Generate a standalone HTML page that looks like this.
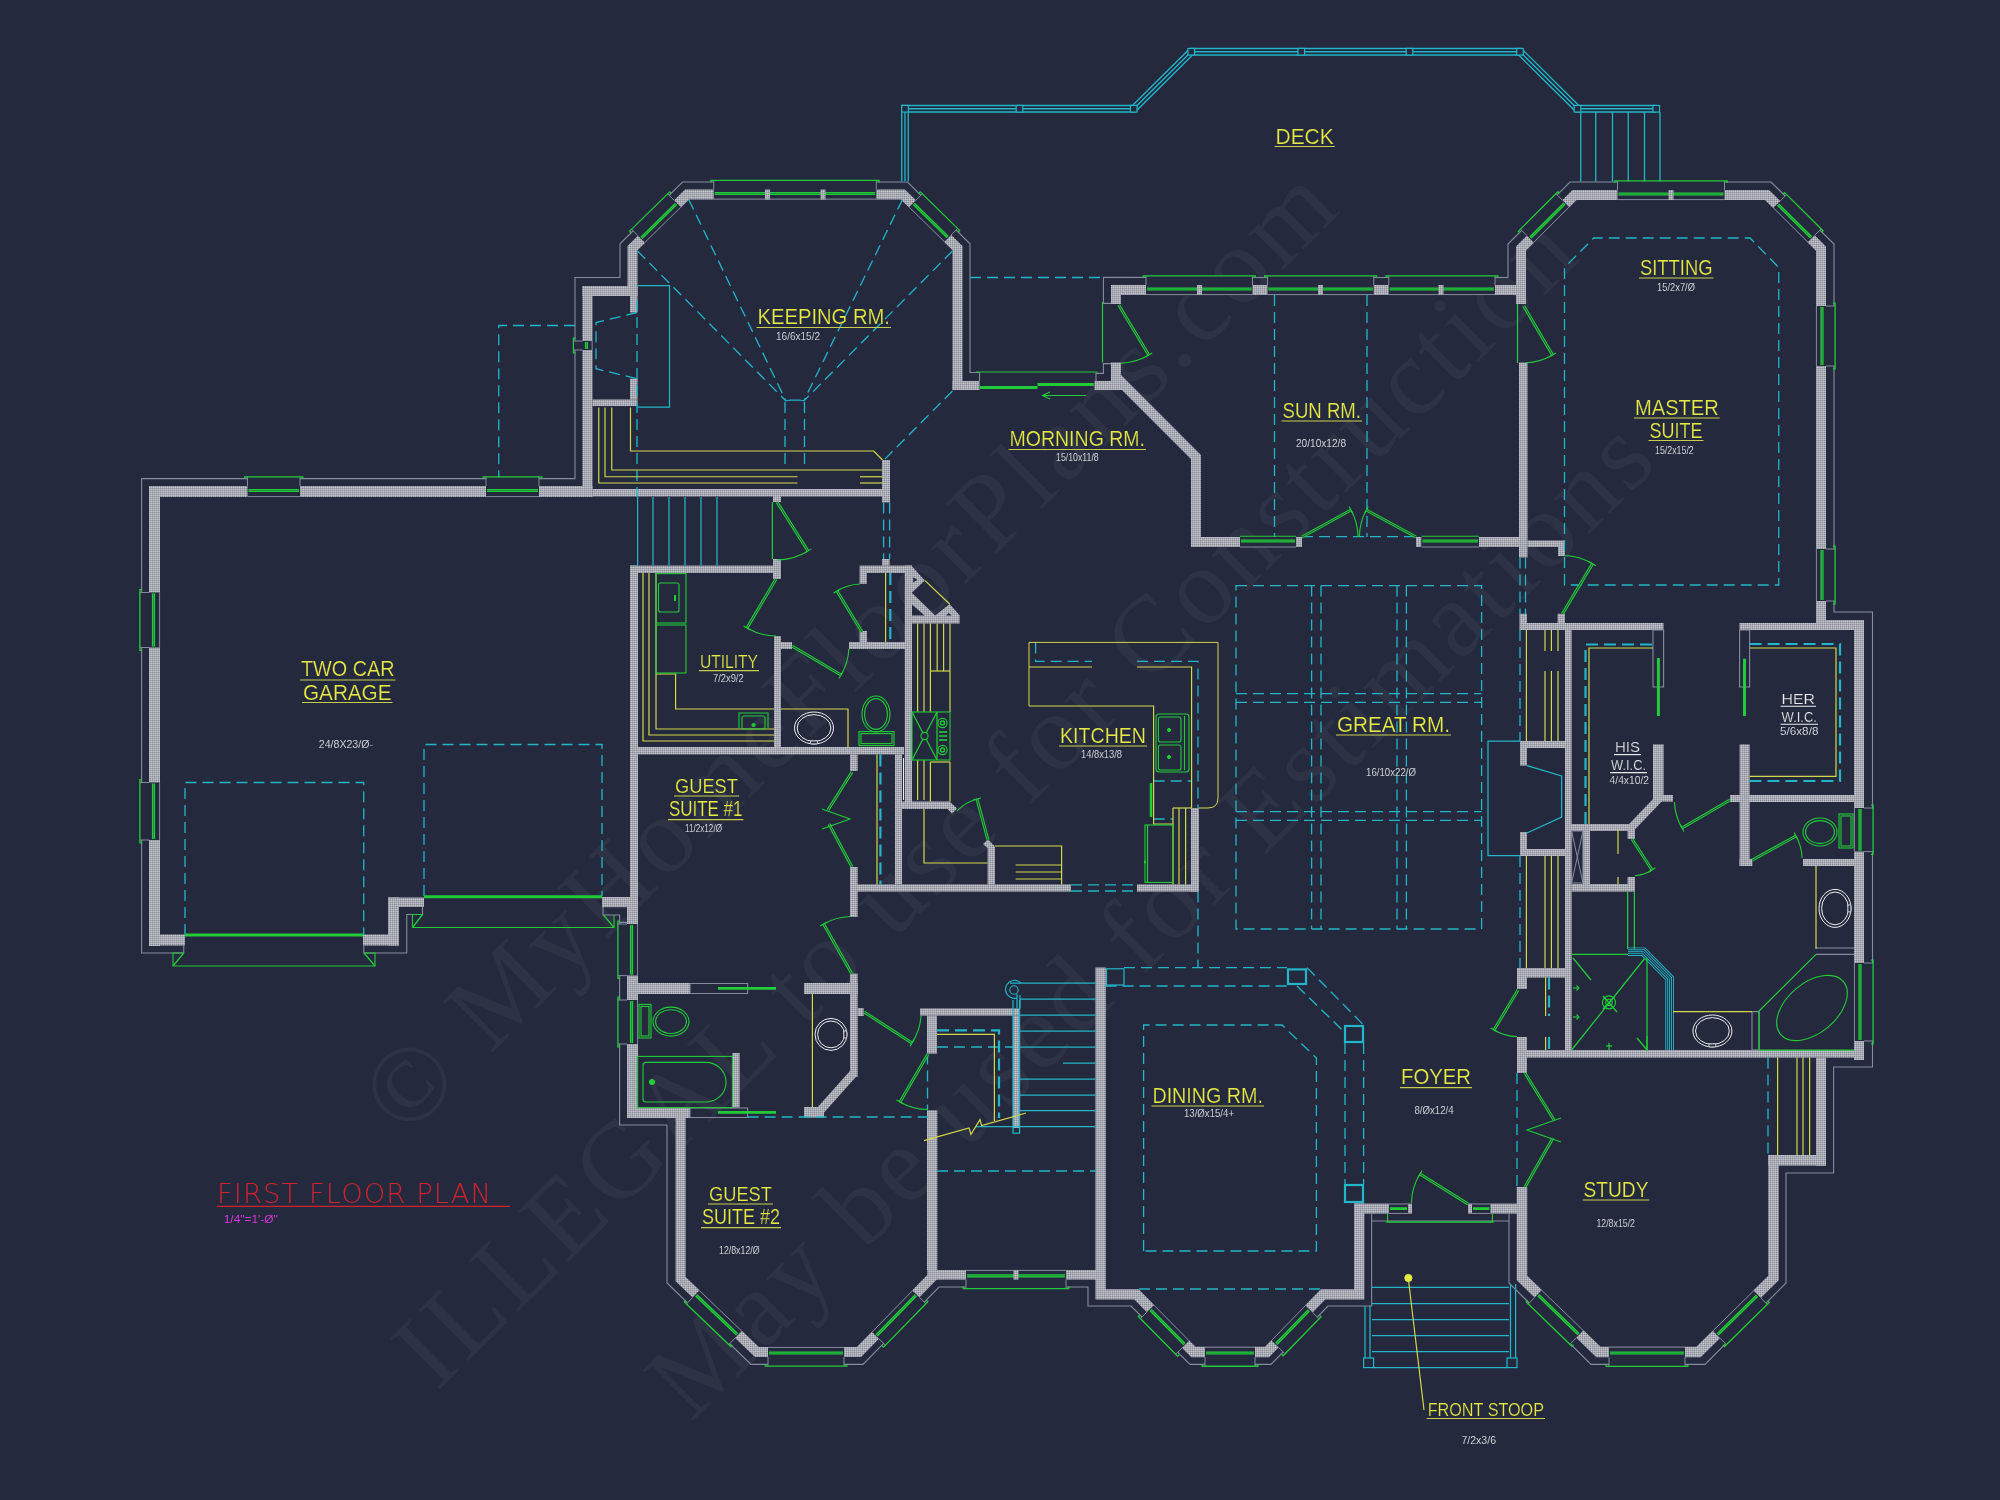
<!DOCTYPE html>
<html lang="en"><head><meta charset="utf-8"><title>First Floor Plan</title>
<style>html,body{margin:0;padding:0;background:#24293d;overflow:hidden}svg{display:block}text{white-space:pre}</style></head><body>
<svg width="2000" height="1500" viewBox="0 0 2000 1500" shape-rendering="geometricPrecision">
<defs><filter id="idf" x="0" y="0" width="2000" height="1500" filterUnits="userSpaceOnUse" color-interpolation-filters="sRGB"><feOffset dx="0" dy="0"/></filter><pattern id="h" width="2" height="2" patternUnits="userSpaceOnUse"><rect width="2" height="2" fill="#a8aab4"/><rect width="1" height="1" fill="#8b8d99"/><rect x="1" y="1" width="1" height="1" fill="#c3c5cd"/></pattern></defs>
<rect width="2000" height="1500" fill="#24293d"/>
<g id="wm">
<text x="405" y="1139" transform="rotate(-44.7 405 1139)" font-family="Liberation Serif, Times New Roman, serif" font-size="109" fill="rgba(255,255,255,0.043)" textLength="1318" lengthAdjust="spacing">© MyHomeFloorPlans.com</text>
<text x="437" y="1392" transform="rotate(-44.7 437 1392)" font-family="Liberation Serif, Times New Roman, serif" font-size="109" fill="rgba(255,255,255,0.043)" textLength="1610" lengthAdjust="spacing">ILLEGAL to use for Construction</text>
<text x="691" y="1423" transform="rotate(-44.7 691 1423)" font-family="Liberation Serif, Times New Roman, serif" font-size="109" fill="rgba(255,255,255,0.043)" textLength="1362" lengthAdjust="spacing">May be used for Estimations</text>
</g>
<g id="wall">
<rect x="149" y="486" width="11" height="460" fill="url(#h)"/>
<rect x="149" y="486" width="443.5" height="11" fill="url(#h)"/>
<rect x="592.5" y="489" width="297.5" height="7.5" fill="url(#h)"/>
<rect x="149" y="934.5" width="36" height="11" fill="url(#h)"/>
<rect x="363" y="934.5" width="36" height="11" fill="url(#h)"/>
<rect x="388" y="897.5" width="11" height="48" fill="url(#h)"/>
<rect x="388" y="897.5" width="36" height="9.5" fill="url(#h)"/>
<rect x="602" y="897" width="36" height="10.2" fill="url(#h)"/>
<rect x="582.5" y="286" width="10" height="211" fill="url(#h)"/>
<rect x="582.5" y="286" width="55" height="10" fill="url(#h)"/>
<rect x="630" y="296" width="7.5" height="16.5" fill="url(#h)"/>
<rect x="630" y="378.75" width="7.5" height="20.75" fill="url(#h)"/>
<rect x="592.5" y="399.5" width="45" height="6.5" fill="url(#h)"/>
<path d="M957.5 390 L957.5 248.1 L902.9 194.5 L687.1 194.5 L632.5 248.1 L632.5 296" fill="none" stroke="url(#h)" stroke-width="10" stroke-linejoin="miter" stroke-miterlimit="10"/>
<rect x="952.5" y="381" width="27" height="9" fill="url(#h)"/>
<rect x="1094.5" y="381" width="27.5" height="9" fill="url(#h)"/>
<rect x="1111" y="285" width="10" height="19" fill="url(#h)"/>
<rect x="1111" y="362.5" width="10" height="27.5" fill="url(#h)"/>
<path d="M1116.5 377.5 L1196 457 L1196 542 L1240 542" fill="none" stroke="url(#h)" stroke-width="10" stroke-linejoin="miter" stroke-miterlimit="10"/>
<rect x="1111" y="285" width="415" height="10" fill="url(#h)"/>
<rect x="1296" y="537" width="6" height="10" fill="url(#h)"/>
<rect x="1416" y="537" width="5.5" height="10" fill="url(#h)"/>
<rect x="1479" y="537" width="40" height="10" fill="url(#h)"/>
<rect x="1519" y="362.5" width="8.5" height="195" fill="url(#h)"/>
<rect x="1527.5" y="540.5" width="37.5" height="6.5" fill="url(#h)"/>
<rect x="1558" y="547" width="7" height="9" fill="url(#h)"/>
<path d="M1521 304 L1521 248.5 L1574.6 195 L1767 195 L1821 248.6 L1821 625" fill="none" stroke="url(#h)" stroke-width="10" stroke-linejoin="miter" stroke-miterlimit="10"/>
<rect x="1516" y="295" width="10" height="9" fill="url(#h)"/>
<rect x="1817" y="620" width="47" height="10" fill="url(#h)"/>
<rect x="1854" y="620" width="10" height="440" fill="url(#h)"/>
<rect x="1739.5" y="623" width="77.5" height="7" fill="url(#h)"/>
<rect x="1519.5" y="623" width="144" height="7" fill="url(#h)"/>
<rect x="1519.5" y="613.75" width="7.5" height="9.25" fill="url(#h)"/>
<rect x="1557.6" y="613.75" width="7.4" height="9.25" fill="url(#h)"/>
<rect x="1565" y="630" width="6.6" height="420" fill="url(#h)"/>
<rect x="1653" y="744.4" width="10.6" height="53.6" fill="url(#h)"/>
<rect x="1653" y="795" width="20" height="6.6" fill="url(#h)"/>
<path d="M1660.5 797 L1631.3 827.5" fill="none" stroke="url(#h)" stroke-width="8" stroke-linejoin="miter" stroke-miterlimit="10"/>
<rect x="1565" y="824" width="70" height="7" fill="url(#h)"/>
<rect x="1627.6" y="831" width="7.4" height="8" fill="url(#h)"/>
<rect x="1739.6" y="744.4" width="10" height="121.6" fill="url(#h)"/>
<rect x="1730" y="795" width="124" height="7" fill="url(#h)"/>
<rect x="1739.6" y="859" width="12.8" height="7" fill="url(#h)"/>
<rect x="1803" y="859" width="51" height="7" fill="url(#h)"/>
<rect x="1520" y="741" width="7" height="24.6" fill="url(#h)"/>
<rect x="1520" y="832" width="7" height="24" fill="url(#h)"/>
<rect x="1520" y="741" width="45" height="7" fill="url(#h)"/>
<rect x="1520" y="849" width="45" height="7" fill="url(#h)"/>
<rect x="1583" y="831" width="7" height="59" fill="url(#h)"/>
<rect x="1571.6" y="884" width="63.4" height="7.6" fill="url(#h)"/>
<rect x="1627.6" y="877" width="7.4" height="7" fill="url(#h)"/>
<rect x="1517" y="1050" width="347" height="7.6" fill="url(#h)"/>
<rect x="1517" y="968" width="10" height="21" fill="url(#h)"/>
<rect x="1517" y="1037" width="10" height="36" fill="url(#h)"/>
<rect x="1517" y="968" width="48" height="9.6" fill="url(#h)"/>
<path d="M1522 1187 L1522 1278 L1598.5 1352 L1698.5 1352 L1773.5 1278 L1773.5 1155" fill="none" stroke="url(#h)" stroke-width="10.5" stroke-linejoin="miter" stroke-miterlimit="10"/>
<rect x="1816" y="1057.6" width="10" height="108" fill="url(#h)"/>
<rect x="1768" y="1155" width="58" height="10.6" fill="url(#h)"/>
<rect x="1354" y="1203.6" width="35" height="10" fill="url(#h)"/>
<rect x="1408" y="1203.6" width="4" height="10" fill="url(#h)"/>
<rect x="1468" y="1203.6" width="4" height="10" fill="url(#h)"/>
<rect x="1490.4" y="1203.6" width="36.6" height="10" fill="url(#h)"/>
<path d="M1100.6 967.6 L1100.6 1294.3 L1136.5 1294.3 L1193.5 1352 L1267 1352 L1323 1294.3 L1359.2 1294.3 L1359.2 1203.6" fill="none" stroke="url(#h)" stroke-width="10.3" stroke-linejoin="miter" stroke-miterlimit="10"/>
<rect x="932" y="1270" width="168" height="9.6" fill="url(#h)"/>
<path d="M680.6 1112 L680.6 1279 L757 1352 L859 1352 L932.3 1277 L932.3 1110.6" fill="none" stroke="url(#h)" stroke-width="10" stroke-linejoin="miter" stroke-miterlimit="10"/>
<rect x="627" y="907" width="11" height="211" fill="url(#h)"/>
<rect x="627.6" y="1107.6" width="62.4" height="10.4" fill="url(#h)"/>
<rect x="637.6" y="983" width="52.4" height="11" fill="url(#h)"/>
<rect x="804" y="983" width="53.6" height="11" fill="url(#h)"/>
<rect x="732.4" y="1053" width="7.2" height="54.6" fill="url(#h)"/>
<rect x="850" y="973.6" width="7.6" height="103.4" fill="url(#h)"/>
<path d="M853.8 1073 L818.5 1112.5" fill="none" stroke="url(#h)" stroke-width="8.5" stroke-linejoin="miter" stroke-miterlimit="10"/>
<rect x="804" y="1107" width="20" height="10.6" fill="url(#h)"/>
<rect x="857.6" y="1008" width="6" height="8" fill="url(#h)"/>
<rect x="630" y="565.6" width="8" height="341.4" fill="url(#h)"/>
<rect x="630" y="565.6" width="151" height="7.4" fill="url(#h)"/>
<rect x="773" y="559" width="8" height="20" fill="url(#h)"/>
<rect x="773" y="496" width="8" height="6" fill="url(#h)"/>
<rect x="774" y="636" width="7" height="111" fill="url(#h)"/>
<rect x="781" y="642" width="11" height="7" fill="url(#h)"/>
<rect x="849" y="642" width="62" height="7" fill="url(#h)"/>
<rect x="859.6" y="631" width="7.4" height="11" fill="url(#h)"/>
<rect x="859.6" y="565.6" width="52.4" height="7.4" fill="url(#h)"/>
<rect x="859.6" y="573" width="7.2" height="10.8" fill="url(#h)"/>
<rect x="882" y="559" width="7.6" height="6.6" fill="url(#h)"/>
<rect x="882" y="460" width="8" height="42.5" fill="url(#h)"/>
<rect x="904.8" y="565.6" width="7.2" height="240.4" fill="url(#h)"/>
<rect x="630" y="747" width="274" height="7.4" fill="url(#h)"/>
<rect x="850" y="754.4" width="7.6" height="16.6" fill="url(#h)"/>
<rect x="850" y="867" width="7.6" height="50" fill="url(#h)"/>
<rect x="850" y="884.4" width="221" height="7.2" fill="url(#h)"/>
<rect x="895" y="754.4" width="7" height="130" fill="url(#h)"/>
<rect x="1137" y="884.4" width="62" height="7.2" fill="url(#h)"/>
<rect x="1191" y="808" width="8" height="83.6" fill="url(#h)"/>
<polygon points="901.6,801.6 949.6,801.6 957,808.5 952,813.5 947.5,809 901.6,809" fill="url(#h)"/>
<polygon points="987.6,884.4 987.6,848 983,844 988,839.5 995,846.5 995,884.4" fill="url(#h)"/>
<polygon points="911.6,566 924.8,580.4 911.8,592.8 935.2,615.6 949.6,604 959.6,615.2 959.6,623.6 912,623.6" fill="url(#h)"/>
<polygon points="913.2,577.2 917.4,579.8 913.2,582.6" fill="#24293d"/>
<polygon points="912,604.4 912,615.6 924.6,615.6" fill="#24293d"/>
<polygon points="946,615.6 951.6,615.6 948.8,613" fill="#24293d"/>
<rect x="920" y="1008.4" width="99.6" height="7.2" fill="url(#h)"/>
<rect x="927" y="1015.6" width="10" height="38" fill="url(#h)"/>
<rect x="927" y="1110.6" width="10" height="159.4" fill="url(#h)"/>
<rect x="1013" y="1015.6" width="6.6" height="112.4" fill="url(#h)"/>
</g>
<g id="v0">
<path d="M183.75 945.5 L183.75 953 L141.6 953 L141.6 478.6 L575 478.6 L575 277.5 L620 277.5 L620 243.75 L682.5 182 L907.5 182 L970 243.75 L970 372.5 L979.5 372.5 L979.5 381" fill="none" stroke="#878ba0" stroke-width="1.1" stroke-linejoin="miter"/>
<path d="M1096 381.3 L1096 373.4 L1103.4 373.4 L1103.4 363.6 L1111 363.6" fill="none" stroke="#878ba0" stroke-width="1.1" stroke-linejoin="miter"/>
<path d="M1111.3 303.4 L1103.4 303.4 L1103.4 277.4 L1508 277.5 L1508 244 L1570 182 L1771 182 L1834 244 L1834 612 L1872.5 612 L1872.5 1067 L1833.6 1067 L1833.6 1173 L1786 1173 L1786 1283 L1705 1364.4 L1591 1364.4 L1509 1283 L1509 1221 L1371.6 1221 L1371.6 1306 L1328 1306 L1271 1364.4 L1190 1364.4 L1131 1306 L1088 1306 L1088 1287 L939 1287 L863 1364.4 L751 1364.4 L667 1283 L667 1125 L619.6 1125 L619.6 922.4 L627 922.4" fill="none" stroke="#878ba0" stroke-width="1.1" stroke-linejoin="miter"/>
<path d="M603 907 L603 915 L619.6 915 L619.6 922.4" fill="none" stroke="#878ba0" stroke-width="1.1" stroke-linejoin="miter"/>
<path d="M363.75 945.5 L363.75 953 L406.75 953 L406.75 914.5 L422.5 914.5 L422.5 907" fill="none" stroke="#878ba0" stroke-width="1.1" stroke-linejoin="miter"/>
<path d="M1371.6 1221 L1371.6 1213.6" fill="none" stroke="#878ba0" stroke-width="1.1" stroke-linejoin="miter"/>
<path d="M1509 1221 L1509 1213.6" fill="none" stroke="#878ba0" stroke-width="1.1" stroke-linejoin="miter"/>
</g>
<g id="erase">
<polygon points="160.3,592.5 160.3,647.5 139.5,647.5 139.5,592.5" fill="#24293d"/>
<polygon points="160.3,782.5 160.3,840 139.5,840 139.5,782.5" fill="#24293d"/>
<polygon points="247.5,497.3 300,497.3 300,476.5 247.5,476.5" fill="#24293d"/>
<polygon points="486,497.3 539,497.3 539,476.5 486,476.5" fill="#24293d"/>
<polygon points="592.8,341 592.8,350 573,350 573,341" fill="#24293d"/>
<polygon points="713.75,199.8 876.25,199.8 876.25,180 713.75,180" fill="#24293d"/>
<polygon points="681.3,207.62 645.22,243.04 631.34,228.91 667.43,193.49" fill="#24293d"/>
<polygon points="908.7,207.62 944.02,242.29 957.89,228.16 922.57,193.49" fill="#24293d"/>
<polygon points="1146,295.3 1252.5,295.3 1252.5,275.5 1146,275.5" fill="#24293d"/>
<polygon points="1267.5,295.3 1373.75,295.3 1373.75,275.5 1267.5,275.5" fill="#24293d"/>
<polygon points="1388.75,295.3 1495,295.3 1495,275.5 1388.75,275.5" fill="#24293d"/>
<polygon points="1617.5,200.3 1724.5,200.3 1724.5,180.5 1617.5,180.5" fill="#24293d"/>
<polygon points="1569.66,207.42 1534.13,242.89 1520.14,228.87 1555.67,193.4" fill="#24293d"/>
<polygon points="1772.93,208.35 1807.43,242.6 1821.38,228.55 1786.88,194.3" fill="#24293d"/>
<polygon points="1815.7,306 1815.7,366 1835.5,366 1835.5,306" fill="#24293d"/>
<polygon points="1815.7,549 1815.7,601 1835.5,601 1835.5,549" fill="#24293d"/>
<polygon points="1853.7,808 1853.7,851.6 1873.5,851.6 1873.5,808" fill="#24293d"/>
<polygon points="1853.7,963 1853.7,1041 1873.5,1041 1873.5,963" fill="#24293d"/>
<polygon points="1542.1,1289.72 1583.77,1330.03 1569.66,1344.62 1527.99,1304.32" fill="#24293d"/>
<polygon points="1609,1346.45 1685,1346.45 1685,1366.75 1609,1366.75" fill="#24293d"/>
<polygon points="1712.47,1330.42 1753.24,1290.19 1767.5,1304.64 1726.73,1344.87" fill="#24293d"/>
<polygon points="1154.39,1304.66 1189.67,1340.37 1175.37,1354.5 1140.09,1318.78" fill="#24293d"/>
<polygon points="1205,1346.55 1255,1346.55 1255,1366.65 1205,1366.65" fill="#24293d"/>
<polygon points="1270.97,1340.09 1304.94,1305.09 1319.36,1319.08 1285.39,1354.09" fill="#24293d"/>
<polygon points="966,1269.7 1066,1269.7 1066,1289.1 966,1289.1" fill="#24293d"/>
<polygon points="699.78,1290 742.21,1330.54 728.54,1344.86 686.1,1304.31" fill="#24293d"/>
<polygon points="768,1346.7 844,1346.7 844,1366.5 768,1366.5" fill="#24293d"/>
<polygon points="871.54,1331.59 912.05,1290.14 926.21,1303.98 885.7,1345.43" fill="#24293d"/>
<polygon points="638.3,924 638.3,975.6 617.5,975.6 617.5,924" fill="#24293d"/>
<polygon points="638.3,1000 638.3,1044 617.5,1044 617.5,1000" fill="#24293d"/>
<rect x="1240" y="536" width="56" height="11.5" fill="#24293d"/>
<rect x="1421.5" y="536" width="57.5" height="11.5" fill="#24293d"/>
</g>
<g id="ven">
<path d="M159.6 592.5 L159.6 647.5" fill="none" stroke="#878ba0" stroke-width="1"/>
<path d="M149 592.5 L139.6 592.5" fill="none" stroke="#878ba0" stroke-width="1"/>
<path d="M149 647.5 L139.6 647.5" fill="none" stroke="#878ba0" stroke-width="1"/>
<path d="M159.6 782.5 L159.6 840" fill="none" stroke="#878ba0" stroke-width="1"/>
<path d="M149 782.5 L139.6 782.5" fill="none" stroke="#878ba0" stroke-width="1"/>
<path d="M149 840 L139.6 840" fill="none" stroke="#878ba0" stroke-width="1"/>
<path d="M247.5 496.6 L300 496.6" fill="none" stroke="#878ba0" stroke-width="1"/>
<path d="M247.5 486 L247.5 476.6" fill="none" stroke="#878ba0" stroke-width="1"/>
<path d="M300 486 L300 476.6" fill="none" stroke="#878ba0" stroke-width="1"/>
<path d="M486 496.6 L539 496.6" fill="none" stroke="#878ba0" stroke-width="1"/>
<path d="M486 486 L486 476.6" fill="none" stroke="#878ba0" stroke-width="1"/>
<path d="M539 486 L539 476.6" fill="none" stroke="#878ba0" stroke-width="1"/>
<path d="M592.1 341 L592.1 350" fill="none" stroke="#878ba0" stroke-width="1"/>
<path d="M582.5 341 L573.1 341" fill="none" stroke="#878ba0" stroke-width="1"/>
<path d="M582.5 350 L573.1 350" fill="none" stroke="#878ba0" stroke-width="1"/>
<path d="M713.75 199.1 L876.25 199.1" fill="none" stroke="#878ba0" stroke-width="1"/>
<path d="M713.75 189.5 L713.75 180.1" fill="none" stroke="#878ba0" stroke-width="1"/>
<path d="M876.25 189.5 L876.25 180.1" fill="none" stroke="#878ba0" stroke-width="1"/>
<path d="M680.81 207.12 L644.73 242.54" fill="none" stroke="#878ba0" stroke-width="1"/>
<path d="M674.08 200.27 L667.5 193.56" fill="none" stroke="#878ba0" stroke-width="1"/>
<path d="M638 235.69 L631.41 228.99" fill="none" stroke="#878ba0" stroke-width="1"/>
<path d="M909.19 207.12 L944.51 241.79" fill="none" stroke="#878ba0" stroke-width="1"/>
<path d="M915.92 200.27 L922.5 193.56" fill="none" stroke="#878ba0" stroke-width="1"/>
<path d="M951.24 234.94 L957.82 228.24" fill="none" stroke="#878ba0" stroke-width="1"/>
<path d="M1146 294.6 L1252.5 294.6" fill="none" stroke="#878ba0" stroke-width="1"/>
<path d="M1146 285 L1146 275.6" fill="none" stroke="#878ba0" stroke-width="1"/>
<path d="M1252.5 285 L1252.5 275.6" fill="none" stroke="#878ba0" stroke-width="1"/>
<path d="M1267.5 294.6 L1373.75 294.6" fill="none" stroke="#878ba0" stroke-width="1"/>
<path d="M1267.5 285 L1267.5 275.6" fill="none" stroke="#878ba0" stroke-width="1"/>
<path d="M1373.75 285 L1373.75 275.6" fill="none" stroke="#878ba0" stroke-width="1"/>
<path d="M1388.75 294.6 L1495 294.6" fill="none" stroke="#878ba0" stroke-width="1"/>
<path d="M1388.75 285 L1388.75 275.6" fill="none" stroke="#878ba0" stroke-width="1"/>
<path d="M1495 285 L1495 275.6" fill="none" stroke="#878ba0" stroke-width="1"/>
<path d="M1617.5 199.6 L1724.5 199.6" fill="none" stroke="#878ba0" stroke-width="1"/>
<path d="M1617.5 190 L1617.5 180.6" fill="none" stroke="#878ba0" stroke-width="1"/>
<path d="M1724.5 190 L1724.5 180.6" fill="none" stroke="#878ba0" stroke-width="1"/>
<path d="M1569.17 206.92 L1533.63 242.39" fill="none" stroke="#878ba0" stroke-width="1"/>
<path d="M1562.38 200.13 L1555.74 193.47" fill="none" stroke="#878ba0" stroke-width="1"/>
<path d="M1526.85 235.6 L1520.21 228.94" fill="none" stroke="#878ba0" stroke-width="1"/>
<path d="M1773.42 207.86 L1807.93 242.11" fill="none" stroke="#878ba0" stroke-width="1"/>
<path d="M1780.19 201.04 L1786.81 194.37" fill="none" stroke="#878ba0" stroke-width="1"/>
<path d="M1814.69 235.29 L1821.31 228.62" fill="none" stroke="#878ba0" stroke-width="1"/>
<path d="M1816.4 306 L1816.4 366" fill="none" stroke="#878ba0" stroke-width="1"/>
<path d="M1826 306 L1835.4 306" fill="none" stroke="#878ba0" stroke-width="1"/>
<path d="M1826 366 L1835.4 366" fill="none" stroke="#878ba0" stroke-width="1"/>
<path d="M1816.4 549 L1816.4 601" fill="none" stroke="#878ba0" stroke-width="1"/>
<path d="M1826 549 L1835.4 549" fill="none" stroke="#878ba0" stroke-width="1"/>
<path d="M1826 601 L1835.4 601" fill="none" stroke="#878ba0" stroke-width="1"/>
<path d="M1854.4 808 L1854.4 851.6" fill="none" stroke="#878ba0" stroke-width="1"/>
<path d="M1864 808 L1873.4 808" fill="none" stroke="#878ba0" stroke-width="1"/>
<path d="M1864 851.6 L1873.4 851.6" fill="none" stroke="#878ba0" stroke-width="1"/>
<path d="M1854.4 963 L1854.4 1041" fill="none" stroke="#878ba0" stroke-width="1"/>
<path d="M1864 963 L1873.4 963" fill="none" stroke="#878ba0" stroke-width="1"/>
<path d="M1864 1041 L1873.4 1041" fill="none" stroke="#878ba0" stroke-width="1"/>
<path d="M1541.62 1290.23 L1583.29 1330.54" fill="none" stroke="#878ba0" stroke-width="1"/>
<path d="M1534.59 1297.49 L1528.06 1304.24" fill="none" stroke="#878ba0" stroke-width="1"/>
<path d="M1576.26 1337.79 L1569.73 1344.55" fill="none" stroke="#878ba0" stroke-width="1"/>
<path d="M1609 1347.15 L1685 1347.15" fill="none" stroke="#878ba0" stroke-width="1"/>
<path d="M1609 1357.25 L1609 1366.65" fill="none" stroke="#878ba0" stroke-width="1"/>
<path d="M1685 1357.25 L1685 1366.65" fill="none" stroke="#878ba0" stroke-width="1"/>
<path d="M1712.96 1330.92 L1753.73 1290.69" fill="none" stroke="#878ba0" stroke-width="1"/>
<path d="M1720.05 1338.11 L1726.66 1344.8" fill="none" stroke="#878ba0" stroke-width="1"/>
<path d="M1760.83 1297.88 L1767.43 1304.57" fill="none" stroke="#878ba0" stroke-width="1"/>
<path d="M1153.9 1305.15 L1189.18 1340.86" fill="none" stroke="#878ba0" stroke-width="1"/>
<path d="M1146.85 1312.11 L1140.17 1318.71" fill="none" stroke="#878ba0" stroke-width="1"/>
<path d="M1182.13 1347.82 L1175.45 1354.43" fill="none" stroke="#878ba0" stroke-width="1"/>
<path d="M1205 1347.25 L1255 1347.25" fill="none" stroke="#878ba0" stroke-width="1"/>
<path d="M1205 1357.15 L1205 1366.55" fill="none" stroke="#878ba0" stroke-width="1"/>
<path d="M1255 1357.15 L1255 1366.55" fill="none" stroke="#878ba0" stroke-width="1"/>
<path d="M1271.47 1340.57 L1305.44 1305.57" fill="none" stroke="#878ba0" stroke-width="1"/>
<path d="M1278.57 1347.47 L1285.32 1354.02" fill="none" stroke="#878ba0" stroke-width="1"/>
<path d="M1312.54 1312.47 L1319.29 1319.02" fill="none" stroke="#878ba0" stroke-width="1"/>
<path d="M966 1270.4 L1066 1270.4" fill="none" stroke="#878ba0" stroke-width="1"/>
<path d="M966 1279.6 L966 1289" fill="none" stroke="#878ba0" stroke-width="1"/>
<path d="M1066 1279.6 L1066 1289" fill="none" stroke="#878ba0" stroke-width="1"/>
<path d="M699.3 1290.5 L741.73 1331.05" fill="none" stroke="#878ba0" stroke-width="1"/>
<path d="M692.67 1297.44 L686.17 1304.24" fill="none" stroke="#878ba0" stroke-width="1"/>
<path d="M735.1 1337.99 L728.61 1344.79" fill="none" stroke="#878ba0" stroke-width="1"/>
<path d="M768 1347.4 L844 1347.4" fill="none" stroke="#878ba0" stroke-width="1"/>
<path d="M768 1357 L768 1366.4" fill="none" stroke="#878ba0" stroke-width="1"/>
<path d="M844 1357 L844 1366.4" fill="none" stroke="#878ba0" stroke-width="1"/>
<path d="M872.04 1332.08 L912.55 1290.63" fill="none" stroke="#878ba0" stroke-width="1"/>
<path d="M878.9 1338.79 L885.62 1345.36" fill="none" stroke="#878ba0" stroke-width="1"/>
<path d="M919.41 1297.34 L926.14 1303.91" fill="none" stroke="#878ba0" stroke-width="1"/>
<path d="M637.6 924 L637.6 975.6" fill="none" stroke="#878ba0" stroke-width="1"/>
<path d="M627 924 L617.6 924" fill="none" stroke="#878ba0" stroke-width="1"/>
<path d="M627 975.6 L617.6 975.6" fill="none" stroke="#878ba0" stroke-width="1"/>
<path d="M637.6 1000 L637.6 1044" fill="none" stroke="#878ba0" stroke-width="1"/>
<path d="M627 1000 L617.6 1000" fill="none" stroke="#878ba0" stroke-width="1"/>
<path d="M627 1044 L617.6 1044" fill="none" stroke="#878ba0" stroke-width="1"/>
<path d="M1240 547 L1296 547" fill="none" stroke="#878ba0" stroke-width="1.1"/>
<path d="M1421.5 547 L1479 547" fill="none" stroke="#878ba0" stroke-width="1.1"/>
<path d="M1389 1204 L1408 1204" fill="none" stroke="#878ba0" stroke-width="1"/>
<path d="M1389 1213.4 L1408 1213.4" fill="none" stroke="#878ba0" stroke-width="1"/>
<path d="M1472 1204 L1490.4 1204" fill="none" stroke="#878ba0" stroke-width="1"/>
<path d="M1472 1213.4 L1490.4 1213.4" fill="none" stroke="#878ba0" stroke-width="1"/>
</g>
<g id="white">
<ellipse cx="814" cy="728" rx="19.5" ry="16" fill="none" stroke="#ececf0" stroke-width="1"/>
<ellipse cx="814" cy="728" rx="16.9" ry="13.4" fill="none" stroke="#ececf0" stroke-width="1"/>
<ellipse cx="831" cy="1034.4" rx="16" ry="16" fill="none" stroke="#ececf0" stroke-width="1"/>
<ellipse cx="831" cy="1034.4" rx="13.4" ry="13.4" fill="none" stroke="#ececf0" stroke-width="1"/>
<ellipse cx="1835" cy="908.4" rx="16" ry="19" fill="none" stroke="#ececf0" stroke-width="1"/>
<ellipse cx="1835" cy="908.4" rx="13.4" ry="16.4" fill="none" stroke="#ececf0" stroke-width="1"/>
<ellipse cx="1712.4" cy="1031" rx="19.5" ry="16" fill="none" stroke="#ececf0" stroke-width="1"/>
<ellipse cx="1712.4" cy="1031" rx="16.9" ry="13.4" fill="none" stroke="#ececf0" stroke-width="1"/>
<path d="M690 983.5 L747.6 983.5 L747.6 993.5 L690 993.5 Z" fill="none" stroke="#878ba0" stroke-width="1.1"/>
<path d="M690 1108 L747.6 1108 L747.6 1117.5 L690 1117.5 Z" fill="none" stroke="#878ba0" stroke-width="1.1"/>
<path d="M1653 630 L1663.6 630 L1663.6 687 L1653 687 Z" fill="none" stroke="#878ba0" stroke-width="1.1"/>
<path d="M1739.6 630 L1749.6 630 L1749.6 687 L1739.6 687 Z" fill="none" stroke="#878ba0" stroke-width="1.1"/>
<path d="M1752 1011.6 L1759 1011.6 L1759 1050 L1752 1050 Z" fill="none" stroke="#878ba0" stroke-width="1.1"/>
<path d="M1816 948 L1854 948" fill="none" stroke="#878ba0" stroke-width="1.1"/>
<path d="M1816 954.4 L1854 954.4" fill="none" stroke="#878ba0" stroke-width="1.1"/>
<path d="M1571.6 831 L1583 831 L1583 883 L1571.6 883 Z" fill="none" stroke="#878ba0" stroke-width="1.1"/>
<path d="M1571.6 831 L1583 883" fill="none" stroke="#878ba0" stroke-width="1"/>
<path d="M1583 831 L1571.6 883" fill="none" stroke="#878ba0" stroke-width="1"/>
<path d="M903.5 758 L903.5 800" fill="none" stroke="#ececf0" stroke-width="1"/>
<rect x="843.9" y="1030.9" width="3" height="7" rx="1" fill="#24293d" stroke="#ececf0" stroke-width="0.9"/>
<rect x="810.5" y="740.9" width="7" height="3" rx="1" fill="#24293d" stroke="#ececf0" stroke-width="0.9"/>
<rect x="1847.9" y="904.9" width="3" height="7" rx="1" fill="#24293d" stroke="#ececf0" stroke-width="0.9"/>
<rect x="1708.9" y="1043.9" width="7" height="3" rx="1" fill="#24293d" stroke="#ececf0" stroke-width="0.9"/>
</g>
<g id="cyan">
<path d="M905 181.5 L905 108.75 L1133.75 108.75 L1191.25 51.75 L1520 51.75 L1577.5 108.75 L1656.25 108.75" fill="none" stroke="#22b6c8" stroke-width="7.8" stroke-linejoin="miter"/>
<path d="M905 181.5 L905 108.75 L1133.75 108.75 L1191.25 51.75 L1520 51.75 L1577.5 108.75 L1656.25 108.75" fill="none" stroke="#24293d" stroke-width="5.2" stroke-linejoin="miter"/>
<path d="M905 181.5 L905 108.75 L1133.75 108.75 L1191.25 51.75 L1520 51.75 L1577.5 108.75 L1656.25 108.75" fill="none" stroke="#22b6c8" stroke-width="1.3" stroke-linejoin="miter"/>
<rect x="901.7" y="105.45" width="6.6" height="6.6" fill="#24293d" stroke="#22b6c8" stroke-width="1.2"/>
<rect x="1016.2" y="105.45" width="6.6" height="6.6" fill="#24293d" stroke="#22b6c8" stroke-width="1.2"/>
<rect x="1130.45" y="105.45" width="6.6" height="6.6" fill="#24293d" stroke="#22b6c8" stroke-width="1.2"/>
<rect x="1187.95" y="48.45" width="6.6" height="6.6" fill="#24293d" stroke="#22b6c8" stroke-width="1.2"/>
<rect x="1297.95" y="48.45" width="6.6" height="6.6" fill="#24293d" stroke="#22b6c8" stroke-width="1.2"/>
<rect x="1406.2" y="48.45" width="6.6" height="6.6" fill="#24293d" stroke="#22b6c8" stroke-width="1.2"/>
<rect x="1516.7" y="48.45" width="6.6" height="6.6" fill="#24293d" stroke="#22b6c8" stroke-width="1.2"/>
<rect x="1574.2" y="105.45" width="6.6" height="6.6" fill="#24293d" stroke="#22b6c8" stroke-width="1.2"/>
<rect x="1652.95" y="105.45" width="6.6" height="6.6" fill="#24293d" stroke="#22b6c8" stroke-width="1.2"/>
<path d="M1580.75 112 L1580.75 181.5" fill="none" stroke="#22b6c8" stroke-width="1.3"/>
<path d="M1595.75 112 L1595.75 181.5" fill="none" stroke="#22b6c8" stroke-width="1.3"/>
<path d="M1612.5 112 L1612.5 181.5" fill="none" stroke="#22b6c8" stroke-width="1.3"/>
<path d="M1628.25 112 L1628.25 181.5" fill="none" stroke="#22b6c8" stroke-width="1.3"/>
<path d="M1644.5 112 L1644.5 181.5" fill="none" stroke="#22b6c8" stroke-width="1.3"/>
<path d="M1660 112 L1660 181.5" fill="none" stroke="#22b6c8" stroke-width="1.3"/>
<path d="M185 935 L185 782.5 L363.75 782.5 L363.75 935" fill="none" stroke="#22b6c8" stroke-width="1.3" stroke-dasharray="11 6"/>
<path d="M424 896 L424 744.5 L602 744.5 L602 896" fill="none" stroke="#22b6c8" stroke-width="1.3" stroke-dasharray="11 6"/>
<path d="M637.5 251 L786 401" fill="none" stroke="#22b6c8" stroke-width="1.3" stroke-dasharray="11 6"/>
<path d="M688.75 199.5 L786 401" fill="none" stroke="#22b6c8" stroke-width="1.3" stroke-dasharray="11 6"/>
<path d="M902.5 199.5 L803.75 401" fill="none" stroke="#22b6c8" stroke-width="1.3" stroke-dasharray="11 6"/>
<path d="M952.5 251 L803.75 401" fill="none" stroke="#22b6c8" stroke-width="1.3" stroke-dasharray="11 6"/>
<path d="M786 401 L790 400 L800 400 L804 401" fill="none" stroke="#22b6c8" stroke-width="1.25"/>
<path d="M785 402 L785 470" fill="none" stroke="#22b6c8" stroke-width="1.3" stroke-dasharray="11 6"/>
<path d="M804.5 402 L804.5 470" fill="none" stroke="#22b6c8" stroke-width="1.3" stroke-dasharray="11 6"/>
<path d="M952.5 391 L884 460" fill="none" stroke="#22b6c8" stroke-width="1.3" stroke-dasharray="11 6"/>
<path d="M637 312.5 L596 322.5 L596 368.75 L637 378.75" fill="none" stroke="#22b6c8" stroke-width="1.3" stroke-dasharray="11 6"/>
<path d="M637.5 285.5 L669.5 285.5 L669.5 407 L637.5 407" fill="none" stroke="#22b6c8" stroke-width="1.25"/>
<path d="M637 300 L637 497" fill="none" stroke="#22b6c8" stroke-width="1.3" stroke-dasharray="11 6"/>
<path d="M575 325.5 L498.75 325.5 L498.75 477.5" fill="none" stroke="#22b6c8" stroke-width="1.3" stroke-dasharray="11 6"/>
<path d="M637.6 497 L637.6 565.6" fill="none" stroke="#22b6c8" stroke-width="1.25"/>
<path d="M653 497 L653 565.6" fill="none" stroke="#22b6c8" stroke-width="1.25"/>
<path d="M669 497 L669 565.6" fill="none" stroke="#22b6c8" stroke-width="1.25"/>
<path d="M685 497 L685 565.6" fill="none" stroke="#22b6c8" stroke-width="1.25"/>
<path d="M701 497 L701 565.6" fill="none" stroke="#22b6c8" stroke-width="1.25"/>
<path d="M717 497 L717 565.6" fill="none" stroke="#22b6c8" stroke-width="1.25"/>
<path d="M970 277.5 L1103.75 277.5" fill="none" stroke="#22b6c8" stroke-width="1.3" stroke-dasharray="11 6"/>
<path d="M1274.5 295 L1274.5 537" fill="none" stroke="#22b6c8" stroke-width="1.3" stroke-dasharray="11 6"/>
<path d="M1367 295 L1367 537" fill="none" stroke="#22b6c8" stroke-width="1.3" stroke-dasharray="11 6"/>
<path d="M1302 536.7 L1416 536.7" fill="none" stroke="#22b6c8" stroke-width="1.3" stroke-dasharray="11 6"/>
<path d="M1564.5 585 L1564.5 267.5 L1593.75 238 L1750 238 L1778.75 267.5 L1778.75 585 Z" fill="none" stroke="#22b6c8" stroke-width="1.3" stroke-dasharray="11 6"/>
<path d="M1236 585.6 L1481.6 585.6 L1481.6 929 L1236 929 Z" fill="none" stroke="#22b6c8" stroke-width="1.3" stroke-dasharray="11 6"/>
<path d="M1311.6 585.6 L1311.6 929" fill="none" stroke="#22b6c8" stroke-width="1.3" stroke-dasharray="11 6"/>
<path d="M1321 585.6 L1321 929" fill="none" stroke="#22b6c8" stroke-width="1.3" stroke-dasharray="11 6"/>
<path d="M1397 585.6 L1397 929" fill="none" stroke="#22b6c8" stroke-width="1.3" stroke-dasharray="11 6"/>
<path d="M1406.4 585.6 L1406.4 929" fill="none" stroke="#22b6c8" stroke-width="1.3" stroke-dasharray="11 6"/>
<path d="M1236 693.6 L1481.6 693.6" fill="none" stroke="#22b6c8" stroke-width="1.3" stroke-dasharray="11 6"/>
<path d="M1236 702.4 L1481.6 702.4" fill="none" stroke="#22b6c8" stroke-width="1.3" stroke-dasharray="11 6"/>
<path d="M1236 811.6 L1481.6 811.6" fill="none" stroke="#22b6c8" stroke-width="1.3" stroke-dasharray="11 6"/>
<path d="M1236 820.4 L1481.6 820.4" fill="none" stroke="#22b6c8" stroke-width="1.3" stroke-dasharray="11 6"/>
<path d="M1520 557.5 L1520 614" fill="none" stroke="#22b6c8" stroke-width="1.3" stroke-dasharray="11 6"/>
<path d="M1525.5 557.5 L1525.5 614" fill="none" stroke="#22b6c8" stroke-width="1.3" stroke-dasharray="11 6"/>
<path d="M1520 741 L1488 741 L1488 855.6 L1520 855.6" fill="none" stroke="#22b6c8" stroke-width="1.25"/>
<path d="M1527 765.6 L1561.6 776 L1561.6 817 L1527 833" fill="none" stroke="#22b6c8" stroke-width="1.25"/>
<path d="M1520 630 L1520 741" fill="none" stroke="#22b6c8" stroke-width="1.3" stroke-dasharray="11 6"/>
<path d="M1520 856 L1520 968" fill="none" stroke="#22b6c8" stroke-width="1.3" stroke-dasharray="11 6"/>
<path d="M1035.6 642.4 L1035.6 661.4 L1092 661.4" fill="none" stroke="#22b6c8" stroke-width="1.3" stroke-dasharray="11 6"/>
<path d="M1137 661.4 L1198 661.4 L1198 808" fill="none" stroke="#22b6c8" stroke-width="1.3" stroke-dasharray="11 6"/>
<path d="M1153.6 781 L1191.6 781" fill="none" stroke="#22b6c8" stroke-width="1.3" stroke-dasharray="11 6"/>
<path d="M1153.6 819 L1173 819" fill="none" stroke="#22b6c8" stroke-width="1.3" stroke-dasharray="11 6"/>
<path d="M1198 891.6 L1198 967.6" fill="none" stroke="#22b6c8" stroke-width="1.3" stroke-dasharray="11 6"/>
<path d="M1071 884.8 L1137 884.8" fill="none" stroke="#22b6c8" stroke-width="1.3" stroke-dasharray="11 6"/>
<path d="M1071 891 L1137 891" fill="none" stroke="#22b6c8" stroke-width="1.3" stroke-dasharray="11 6"/>
<path d="M883.6 502.5 L883.6 559" fill="none" stroke="#22b6c8" stroke-width="1.3" stroke-dasharray="11 6"/>
<path d="M889.6 502.5 L889.6 559" fill="none" stroke="#22b6c8" stroke-width="1.3" stroke-dasharray="11 6"/>
<path d="M890.3 573 L890.3 642" fill="none" stroke="#22b6c8" stroke-width="2.2" stroke-dasharray="12 6"/>
<path d="M880.4 754.4 L880.4 884.4" fill="none" stroke="#22b6c8" stroke-width="2.2" stroke-dasharray="12 6"/>
<rect x="1106.5" y="968.8" width="17.5" height="16.2" fill="none" stroke="#22b6c8" stroke-width="1.2"/>
<rect x="1288" y="969.4" width="18" height="14.6" fill="none" stroke="#22b6c8" stroke-width="2.2"/>
<rect x="1345" y="1026" width="18" height="16" fill="none" stroke="#22b6c8" stroke-width="2.2"/>
<rect x="1345" y="1185" width="18" height="17" fill="none" stroke="#22b6c8" stroke-width="2.2"/>
<path d="M1124 967.6 L1287 967.6" fill="none" stroke="#22b6c8" stroke-width="1.3" stroke-dasharray="11 6"/>
<path d="M1105.6 986 L1287 986" fill="none" stroke="#22b6c8" stroke-width="1.3" stroke-dasharray="11 6"/>
<path d="M1307 967.6 L1363.6 1025" fill="none" stroke="#22b6c8" stroke-width="1.3" stroke-dasharray="11 6"/>
<path d="M1297 986 L1344.4 1032" fill="none" stroke="#22b6c8" stroke-width="1.3" stroke-dasharray="11 6"/>
<path d="M1345 1043 L1345 1184" fill="none" stroke="#22b6c8" stroke-width="1.3" stroke-dasharray="11 6"/>
<path d="M1363.6 1043 L1363.6 1184" fill="none" stroke="#22b6c8" stroke-width="1.3" stroke-dasharray="11 6"/>
<path d="M1143.6 1251 L1143.6 1025 L1282 1025 L1316.4 1058 L1316.4 1251 Z" fill="none" stroke="#22b6c8" stroke-width="1.3" stroke-dasharray="11 6"/>
<path d="M1139 1289 L1320 1289" fill="none" stroke="#22b6c8" stroke-width="1.3" stroke-dasharray="11 6"/>
<path d="M1019.6 1015 L1095.6 1015" fill="none" stroke="#22b6c8" stroke-width="1.25"/>
<path d="M1019.6 1031 L1095.6 1031" fill="none" stroke="#22b6c8" stroke-width="1.25"/>
<path d="M1019.6 1047 L1095.6 1047" fill="none" stroke="#22b6c8" stroke-width="1.25"/>
<path d="M1019.6 1079 L1095.6 1079" fill="none" stroke="#22b6c8" stroke-width="1.25"/>
<path d="M1019.6 1095 L1095.6 1095" fill="none" stroke="#22b6c8" stroke-width="1.25"/>
<path d="M1019.6 1110.6 L1095.6 1110.6" fill="none" stroke="#22b6c8" stroke-width="1.25"/>
<path d="M1063 1063 L1095.6 1063" fill="none" stroke="#22b6c8" stroke-width="1.25"/>
<path d="M976 1126.6 L1095.6 1126.6" fill="none" stroke="#22b6c8" stroke-width="1.25"/>
<path d="M1020 999 L1096 999" fill="none" stroke="#22b6c8" stroke-width="1.25"/>
<path d="M1010 983 L1096 983" fill="none" stroke="#22b6c8" stroke-width="1.25"/>
<circle cx="1014" cy="990" r="4.2" fill="none" stroke="#22b6c8" stroke-width="1.1"/>
<path d="M1021 983 A9 9 0 1 0 1017 998" fill="none" stroke="#22b6c8" stroke-width="1.1"/>
<path d="M1017 994 L1017 1008.4" fill="none" stroke="#22b6c8" stroke-width="1.25"/>
<path d="M1020 995 L1020 1008.4" fill="none" stroke="#22b6c8" stroke-width="1.25"/>
<path d="M1013 1000 L1013 1133 L1019.6 1133 L1019.6 1000" fill="none" stroke="#22b6c8" stroke-width="1.25"/>
<path d="M937 1030.4 L999 1030.4 L999 1118" fill="none" stroke="#22b6c8" stroke-width="2.2" stroke-dasharray="12 6"/>
<path d="M937 1047 L1013 1047" fill="none" stroke="#22b6c8" stroke-width="1.3" stroke-dasharray="11 6"/>
<path d="M927.5 1053.6 L927.5 1110.6" fill="none" stroke="#22b6c8" stroke-width="1.3" stroke-dasharray="11 6"/>
<path d="M937 1171 L1095.6 1171" fill="none" stroke="#22b6c8" stroke-width="1.3" stroke-dasharray="11 6"/>
<path d="M747.6 1117 L928 1117" fill="none" stroke="#22b6c8" stroke-width="1.3" stroke-dasharray="11 6"/>
<path d="M1372 1287.4 L1509 1287.4" fill="none" stroke="#22b6c8" stroke-width="1.25"/>
<path d="M1372 1303.6 L1509 1303.6" fill="none" stroke="#22b6c8" stroke-width="1.25"/>
<path d="M1372 1319.6 L1509 1319.6" fill="none" stroke="#22b6c8" stroke-width="1.25"/>
<path d="M1372 1335.6 L1509 1335.6" fill="none" stroke="#22b6c8" stroke-width="1.25"/>
<path d="M1372 1351.6 L1509 1351.6" fill="none" stroke="#22b6c8" stroke-width="1.25"/>
<path d="M1365 1306 L1365 1358" fill="none" stroke="#22b6c8" stroke-width="1.25"/>
<path d="M1370 1306 L1370 1358" fill="none" stroke="#22b6c8" stroke-width="1.25"/>
<path d="M1510.5 1284 L1510.5 1358" fill="none" stroke="#22b6c8" stroke-width="1.25"/>
<path d="M1515.6 1284 L1515.6 1358" fill="none" stroke="#22b6c8" stroke-width="1.25"/>
<rect x="1363.6" y="1358" width="10" height="9.6" fill="none" stroke="#22b6c8" stroke-width="1.2"/>
<rect x="1507" y="1358" width="10" height="9.6" fill="none" stroke="#22b6c8" stroke-width="1.2"/>
<path d="M1373.6 1367.6 L1507 1367.6" fill="none" stroke="#22b6c8" stroke-width="1.25"/>
<path d="M1628 951.7 L1643.5 951.7 L1669.6 978.3 L1669.6 1050" fill="none" stroke="#22b6c8" stroke-width="8.6" stroke-linejoin="miter"/>
<path d="M1628 951.7 L1643.5 951.7 L1669.6 978.3 L1669.6 1050" fill="none" stroke="#24293d" stroke-width="6.8" stroke-linejoin="miter"/>
<path d="M1628 951.7 L1643.5 951.7 L1669.6 978.3 L1669.6 1050" fill="none" stroke="#22b6c8" stroke-width="4.8" stroke-linejoin="miter"/>
<path d="M1628 951.7 L1643.5 951.7 L1669.6 978.3 L1669.6 1050" fill="none" stroke="#24293d" stroke-width="3" stroke-linejoin="miter"/>
<path d="M1628 951.7 L1643.5 951.7 L1669.6 978.3 L1669.6 1050" fill="none" stroke="#22b6c8" stroke-width="1" stroke-linejoin="miter"/>
<path d="M1549 977.6 L1549 1016" fill="none" stroke="#22b6c8" stroke-width="2.2" stroke-dasharray="12 6"/>
<path d="M1549 1037 L1549 1050" fill="none" stroke="#22b6c8" stroke-width="2.2" stroke-dasharray="12 6"/>
<path d="M1768 1057.6 L1768 1155" fill="none" stroke="#22b6c8" stroke-width="1.3" stroke-dasharray="11 6"/>
<path d="M1517 1073 L1517 1187" fill="none" stroke="#22b6c8" stroke-width="1.3" stroke-dasharray="11 6"/>
<path d="M1585.5 824 L1585.5 644.5 L1652.5 644.5" fill="none" stroke="#22b6c8" stroke-width="2.2" stroke-dasharray="12 6"/>
<path d="M1749.6 644 L1840 644 L1840 781 L1749.6 781" fill="none" stroke="#22b6c8" stroke-width="2.2" stroke-dasharray="12 6"/>
</g>
<g id="yel">
<path d="M598.75 407.5 L598.75 483 L797.5 483" fill="none" stroke="#d3d74a" stroke-width="1.2"/>
<path d="M860 483 L882.5 483" fill="none" stroke="#d3d74a" stroke-width="1.2"/>
<path d="M605 407.5 L605 476.75 L797.5 476.75" fill="none" stroke="#d3d74a" stroke-width="1.2"/>
<path d="M860 476.75 L882.5 476.75" fill="none" stroke="#d3d74a" stroke-width="1.2"/>
<path d="M611.75 407.5 L611.75 470 L882.5 470" fill="none" stroke="#d3d74a" stroke-width="1.2"/>
<path d="M630.5 407.5 L630.5 451 L873.75 451 L882.5 460" fill="none" stroke="#d3d74a" stroke-width="1.2"/>
<path d="M643 573 L643 741 L774 741" fill="none" stroke="#d3d74a" stroke-width="1.2"/>
<path d="M649 573 L649 735 L774 735" fill="none" stroke="#d3d74a" stroke-width="1.2"/>
<path d="M656 573 L656 729 L774 729" fill="none" stroke="#d3d74a" stroke-width="1.2"/>
<path d="M656 674 L675.6 674 L675.6 709 L774 709" fill="none" stroke="#d3d74a" stroke-width="1.2"/>
<path d="M781 709 L848 709 L848 747" fill="none" stroke="#d3d74a" stroke-width="1.2"/>
<path d="M885.6 573 L885.6 642" fill="none" stroke="#d3d74a" stroke-width="1.2"/>
<path d="M877 754.4 L877 884.4" fill="none" stroke="#d3d74a" stroke-width="1.2"/>
<path d="M917.6 623.6 L917.6 712" fill="none" stroke="#d3d74a" stroke-width="1.2"/>
<path d="M917.6 760 L917.6 800" fill="none" stroke="#d3d74a" stroke-width="1.2"/>
<path d="M924 623.6 L924 712" fill="none" stroke="#d3d74a" stroke-width="1.2"/>
<path d="M924 760 L924 800" fill="none" stroke="#d3d74a" stroke-width="1.2"/>
<path d="M930.4 623.6 L930.4 712" fill="none" stroke="#d3d74a" stroke-width="1.2"/>
<path d="M950 623.6 L950 712" fill="none" stroke="#d3d74a" stroke-width="1.2"/>
<path d="M937.2 623.6 L937.2 671" fill="none" stroke="#d3d74a" stroke-width="1.2"/>
<path d="M943.6 623.6 L943.6 671" fill="none" stroke="#d3d74a" stroke-width="1.2"/>
<path d="M930.4 671 L950 671" fill="none" stroke="#d3d74a" stroke-width="1.2"/>
<path d="M930.4 762 L930.4 801.6" fill="none" stroke="#d3d74a" stroke-width="1.2"/>
<path d="M950 762 L950 801.6" fill="none" stroke="#d3d74a" stroke-width="1.2"/>
<path d="M930.4 762 L950 762" fill="none" stroke="#d3d74a" stroke-width="1.2"/>
<path d="M924.8 580.4 L949.6 604" fill="none" stroke="#d3d74a" stroke-width="1.2"/>
<path d="M1029 706 L1029 642.4 L1218 642.4 L1218 798 Q1218 808 1208 808 L1199 808" fill="none" stroke="#d3d74a" stroke-width="1"/>
<path d="M1029 667 L1092 667" fill="none" stroke="#d3d74a" stroke-width="1.2"/>
<path d="M1137 667 L1191.6 667 L1191.6 808" fill="none" stroke="#d3d74a" stroke-width="1.2"/>
<path d="M1029 706 L1153.6 706 L1153.6 824 L1173 824" fill="none" stroke="#d3d74a" stroke-width="1.2"/>
<path d="M1173 808 L1173 884.4" fill="none" stroke="#d3d74a" stroke-width="1.2"/>
<path d="M1179 808 L1179 884.4" fill="none" stroke="#d3d74a" stroke-width="1.2"/>
<path d="M1185.6 808 L1185.6 884.4" fill="none" stroke="#d3d74a" stroke-width="1.2"/>
<path d="M1173 808 L1191 808" fill="none" stroke="#d3d74a" stroke-width="1.2"/>
<path d="M924 809 L924 863 L987.6 863" fill="none" stroke="#d3d74a" stroke-width="1.2"/>
<path d="M995 846 L1061.6 846 L1061.6 884.4" fill="none" stroke="#d3d74a" stroke-width="1.2"/>
<path d="M1015.6 865 L1061.6 865" fill="none" stroke="#d3d74a" stroke-width="1.2"/>
<path d="M1015.6 872 L1061.6 872" fill="none" stroke="#d3d74a" stroke-width="1.2"/>
<path d="M1015.6 879 L1061.6 879" fill="none" stroke="#d3d74a" stroke-width="1.2"/>
<path d="M812.4 994 L812.4 1107" fill="none" stroke="#d3d74a" stroke-width="1.2"/>
<path d="M937 1034.4 L994.4 1034.4 L994.4 1121" fill="none" stroke="#d3d74a" stroke-width="1.2"/>
<path d="M924 1140.6 L969 1128 L971 1134.4 L980 1119.6 L981.6 1125.6 L1026 1113" fill="none" stroke="#d3d74a" stroke-width="1.2"/>
<path d="M1526.4 630 L1526.4 741" fill="none" stroke="#d3d74a" stroke-width="1.2"/>
<path d="M1526.4 856 L1526.4 968" fill="none" stroke="#d3d74a" stroke-width="1.2"/>
<path d="M1545 630 L1545 651" fill="none" stroke="#d3d74a" stroke-width="1.2"/>
<path d="M1545 671 L1545 741" fill="none" stroke="#d3d74a" stroke-width="1.2"/>
<path d="M1545 856 L1545 968" fill="none" stroke="#d3d74a" stroke-width="1.2"/>
<path d="M1551.4 630 L1551.4 651" fill="none" stroke="#d3d74a" stroke-width="1.2"/>
<path d="M1551.4 671 L1551.4 741" fill="none" stroke="#d3d74a" stroke-width="1.2"/>
<path d="M1551.4 856 L1551.4 968" fill="none" stroke="#d3d74a" stroke-width="1.2"/>
<path d="M1558 630 L1558 651" fill="none" stroke="#d3d74a" stroke-width="1.2"/>
<path d="M1558 671 L1558 741" fill="none" stroke="#d3d74a" stroke-width="1.2"/>
<path d="M1558 856 L1558 968" fill="none" stroke="#d3d74a" stroke-width="1.2"/>
<path d="M1545.6 977.6 L1545.6 1016" fill="none" stroke="#d3d74a" stroke-width="1.2"/>
<path d="M1545.6 1037 L1545.6 1050" fill="none" stroke="#d3d74a" stroke-width="1.2"/>
<path d="M1589 824 L1589 648 L1653 648" fill="none" stroke="#d3d74a" stroke-width="1.2"/>
<path d="M1749.6 648 L1836 648 L1836 776.4 L1749.6 776.4" fill="none" stroke="#d3d74a" stroke-width="1.2"/>
<path d="M1618 830 L1618 854" fill="none" stroke="#d3d74a" stroke-width="1.2"/>
<path d="M1618 877 L1618 884" fill="none" stroke="#d3d74a" stroke-width="1.2"/>
<path d="M1816 866 L1816 949" fill="none" stroke="#d3d74a" stroke-width="1.2"/>
<path d="M1673 1011.6 L1752 1011.6" fill="none" stroke="#d3d74a" stroke-width="1.2"/>
<path d="M1777.6 1057.6 L1777.6 1155" fill="none" stroke="#d3d74a" stroke-width="1.2"/>
<path d="M1797 1057.6 L1797 1155" fill="none" stroke="#d3d74a" stroke-width="1.2"/>
<path d="M1803 1057.6 L1803 1155" fill="none" stroke="#d3d74a" stroke-width="1.2"/>
<path d="M1809.6 1057.6 L1809.6 1155" fill="none" stroke="#d3d74a" stroke-width="1.2"/>
<circle cx="1408.4" cy="1278" r="3.6" fill="#e6ea44" stroke="#e6ea44" stroke-width="1"/>
<path d="M1408.6 1281 L1424 1410" fill="none" stroke="#d3d74a" stroke-width="1.2"/>
</g>
<g id="green">
<path d="M153.5 593.5 L153.5 646.5" fill="none" stroke="#22cc38" stroke-width="3.2"/>
<path d="M153.5 593.5 L153.5 646.5" fill="none" stroke="#1f8038" stroke-width="0.8"/>
<path d="M142.1 589.7 L139.9 589.7 L139.9 650.3 L142.1 650.3" fill="none" stroke="#22cc38" stroke-width="1.3"/>
<path d="M153.5 783.5 L153.5 839" fill="none" stroke="#22cc38" stroke-width="3.2"/>
<path d="M153.5 783.5 L153.5 839" fill="none" stroke="#1f8038" stroke-width="0.8"/>
<path d="M142.1 779.7 L139.9 779.7 L139.9 842.8 L142.1 842.8" fill="none" stroke="#22cc38" stroke-width="1.3"/>
<path d="M248.5 490.5 L299 490.5" fill="none" stroke="#22cc38" stroke-width="3.2"/>
<path d="M248.5 490.5 L299 490.5" fill="none" stroke="#1f8038" stroke-width="0.8"/>
<path d="M244.7 479.1 L244.7 476.9 L302.8 476.9 L302.8 479.1" fill="none" stroke="#22cc38" stroke-width="1.3"/>
<path d="M487 490.5 L538 490.5" fill="none" stroke="#22cc38" stroke-width="3.2"/>
<path d="M487 490.5 L538 490.5" fill="none" stroke="#1f8038" stroke-width="0.8"/>
<path d="M483.2 479.1 L483.2 476.9 L541.8 476.9 L541.8 479.1" fill="none" stroke="#22cc38" stroke-width="1.3"/>
<path d="M586.5 342 L586.5 349" fill="none" stroke="#22cc38" stroke-width="3.2"/>
<path d="M586.5 342 L586.5 349" fill="none" stroke="#1f8038" stroke-width="0.8"/>
<path d="M575.6 338.2 L573.4 338.2 L573.4 352.8 L575.6 352.8" fill="none" stroke="#22cc38" stroke-width="1.3"/>
<path d="M714.75 193.5 L875.25 193.5" fill="none" stroke="#22cc38" stroke-width="3.2"/>
<path d="M714.75 193.5 L875.25 193.5" fill="none" stroke="#1f8038" stroke-width="0.8"/>
<path d="M710.95 182.6 L710.95 180.4 L879.05 180.4 L879.05 182.6" fill="none" stroke="#22cc38" stroke-width="1.3"/>
<path d="M676.17 203.83 L641.52 237.85" fill="none" stroke="#22cc38" stroke-width="3.2"/>
<path d="M676.17 203.83 L641.52 237.85" fill="none" stroke="#1f8038" stroke-width="0.8"/>
<path d="M671.25 193.39 L669.71 191.82 L629.63 231.16 L631.17 232.73" fill="none" stroke="#22cc38" stroke-width="1.3"/>
<path d="M913.83 203.83 L947.72 237.1" fill="none" stroke="#22cc38" stroke-width="3.2"/>
<path d="M913.83 203.83 L947.72 237.1" fill="none" stroke="#1f8038" stroke-width="0.8"/>
<path d="M918.75 193.39 L920.29 191.82 L959.61 230.41 L958.07 231.98" fill="none" stroke="#22cc38" stroke-width="1.3"/>
<path d="M1147 289 L1251.5 289" fill="none" stroke="#22cc38" stroke-width="3.2"/>
<path d="M1147 289 L1251.5 289" fill="none" stroke="#1f8038" stroke-width="0.8"/>
<path d="M1143.2 278.1 L1143.2 275.9 L1255.3 275.9 L1255.3 278.1" fill="none" stroke="#22cc38" stroke-width="1.3"/>
<path d="M1268.5 289 L1372.75 289" fill="none" stroke="#22cc38" stroke-width="3.2"/>
<path d="M1268.5 289 L1372.75 289" fill="none" stroke="#1f8038" stroke-width="0.8"/>
<path d="M1264.7 278.1 L1264.7 275.9 L1376.55 275.9 L1376.55 278.1" fill="none" stroke="#22cc38" stroke-width="1.3"/>
<path d="M1389.75 289 L1494 289" fill="none" stroke="#22cc38" stroke-width="3.2"/>
<path d="M1389.75 289 L1494 289" fill="none" stroke="#1f8038" stroke-width="0.8"/>
<path d="M1385.95 278.1 L1385.95 275.9 L1497.8 275.9 L1497.8 278.1" fill="none" stroke="#22cc38" stroke-width="1.3"/>
<path d="M1618.5 194 L1723.5 194" fill="none" stroke="#22cc38" stroke-width="3.2"/>
<path d="M1618.5 194 L1723.5 194" fill="none" stroke="#1f8038" stroke-width="0.8"/>
<path d="M1614.7 183.1 L1614.7 180.9 L1727.3 180.9 L1727.3 183.1" fill="none" stroke="#22cc38" stroke-width="1.3"/>
<path d="M1564.5 203.67 L1530.38 237.72" fill="none" stroke="#22cc38" stroke-width="3.2"/>
<path d="M1564.5 203.67 L1530.38 237.72" fill="none" stroke="#1f8038" stroke-width="0.8"/>
<path d="M1559.49 193.27 L1557.94 191.71 L1518.44 231.13 L1519.99 232.69" fill="none" stroke="#22cc38" stroke-width="1.3"/>
<path d="M1778.08 204.59 L1811.16 237.43" fill="none" stroke="#22cc38" stroke-width="3.2"/>
<path d="M1778.08 204.59 L1811.16 237.43" fill="none" stroke="#1f8038" stroke-width="0.8"/>
<path d="M1783.06 194.17 L1784.61 192.61 L1823.09 230.81 L1821.54 232.37" fill="none" stroke="#22cc38" stroke-width="1.3"/>
<path d="M1822 307 L1822 365" fill="none" stroke="#22cc38" stroke-width="3.2"/>
<path d="M1822 307 L1822 365" fill="none" stroke="#1f8038" stroke-width="0.8"/>
<path d="M1832.9 303.2 L1835.1 303.2 L1835.1 368.8 L1832.9 368.8" fill="none" stroke="#22cc38" stroke-width="1.3"/>
<path d="M1822 550 L1822 600" fill="none" stroke="#22cc38" stroke-width="3.2"/>
<path d="M1822 550 L1822 600" fill="none" stroke="#1f8038" stroke-width="0.8"/>
<path d="M1832.9 546.2 L1835.1 546.2 L1835.1 603.8 L1832.9 603.8" fill="none" stroke="#22cc38" stroke-width="1.3"/>
<path d="M1860 809 L1860 850.6" fill="none" stroke="#22cc38" stroke-width="3.2"/>
<path d="M1860 809 L1860 850.6" fill="none" stroke="#1f8038" stroke-width="0.8"/>
<path d="M1870.9 805.2 L1873.1 805.2 L1873.1 854.4 L1870.9 854.4" fill="none" stroke="#22cc38" stroke-width="1.3"/>
<path d="M1860 964 L1860 1040" fill="none" stroke="#22cc38" stroke-width="3.2"/>
<path d="M1860 964 L1860 1040" fill="none" stroke="#1f8038" stroke-width="0.8"/>
<path d="M1870.9 960.2 L1873.1 960.2 L1873.1 1043.8 L1870.9 1043.8" fill="none" stroke="#22cc38" stroke-width="1.3"/>
<path d="M1538.27 1295.13 L1578.5 1334.04" fill="none" stroke="#22cc38" stroke-width="3.2"/>
<path d="M1538.27 1295.13 L1578.5 1334.04" fill="none" stroke="#1f8038" stroke-width="0.8"/>
<path d="M1527.78 1300.5 L1526.25 1302.08 L1571.95 1346.28 L1573.48 1344.7" fill="none" stroke="#22cc38" stroke-width="1.3"/>
<path d="M1610 1353 L1684 1353" fill="none" stroke="#22cc38" stroke-width="3.2"/>
<path d="M1610 1353 L1684 1353" fill="none" stroke="#1f8038" stroke-width="0.8"/>
<path d="M1606.2 1364.15 L1606.2 1366.35 L1687.8 1366.35 L1687.8 1364.15" fill="none" stroke="#22cc38" stroke-width="1.3"/>
<path d="M1717.78 1334.38 L1757.13 1295.56" fill="none" stroke="#22cc38" stroke-width="3.2"/>
<path d="M1717.78 1334.38 L1757.13 1295.56" fill="none" stroke="#1f8038" stroke-width="0.8"/>
<path d="M1722.91 1344.99 L1724.45 1346.55 L1769.21 1302.39 L1767.67 1300.82" fill="none" stroke="#22cc38" stroke-width="1.3"/>
<path d="M1150.51 1309.9 L1184.38 1344.19" fill="none" stroke="#22cc38" stroke-width="3.2"/>
<path d="M1150.51 1309.9 L1184.38 1344.19" fill="none" stroke="#1f8038" stroke-width="0.8"/>
<path d="M1139.98 1314.97 L1138.41 1316.51 L1177.63 1356.21 L1179.19 1354.66" fill="none" stroke="#22cc38" stroke-width="1.3"/>
<path d="M1206 1353 L1254 1353" fill="none" stroke="#22cc38" stroke-width="3.2"/>
<path d="M1206 1353 L1254 1353" fill="none" stroke="#1f8038" stroke-width="0.8"/>
<path d="M1202.2 1364.05 L1202.2 1366.25 L1257.8 1366.25 L1257.8 1364.05" fill="none" stroke="#22cc38" stroke-width="1.3"/>
<path d="M1276.29 1343.86 L1308.87 1310.3" fill="none" stroke="#22cc38" stroke-width="3.2"/>
<path d="M1276.29 1343.86 L1308.87 1310.3" fill="none" stroke="#1f8038" stroke-width="0.8"/>
<path d="M1281.58 1354.28 L1283.15 1355.82 L1321.02 1316.8 L1319.44 1315.26" fill="none" stroke="#22cc38" stroke-width="1.3"/>
<path d="M967 1275.8 L1065 1275.8" fill="none" stroke="#22cc38" stroke-width="3.2"/>
<path d="M967 1275.8 L1065 1275.8" fill="none" stroke="#1f8038" stroke-width="0.8"/>
<path d="M963.2 1286.5 L963.2 1288.7 L1068.8 1288.7 L1068.8 1286.5" fill="none" stroke="#22cc38" stroke-width="1.3"/>
<path d="M696.15 1295.24 L737.14 1334.41" fill="none" stroke="#22cc38" stroke-width="3.2"/>
<path d="M696.15 1295.24 L737.14 1334.41" fill="none" stroke="#1f8038" stroke-width="0.8"/>
<path d="M685.87 1300.5 L684.35 1302.09 L730.84 1346.5 L732.36 1344.91" fill="none" stroke="#22cc38" stroke-width="1.3"/>
<path d="M769 1353 L843 1353" fill="none" stroke="#22cc38" stroke-width="3.2"/>
<path d="M769 1353 L843 1353" fill="none" stroke="#1f8038" stroke-width="0.8"/>
<path d="M765.2 1363.9 L765.2 1366.1 L846.8 1366.1 L846.8 1363.9" fill="none" stroke="#22cc38" stroke-width="1.3"/>
<path d="M876.74 1335.28 L915.86 1295.26" fill="none" stroke="#22cc38" stroke-width="3.2"/>
<path d="M876.74 1335.28 L915.86 1295.26" fill="none" stroke="#1f8038" stroke-width="0.8"/>
<path d="M881.88 1345.62 L883.45 1347.15 L927.88 1301.7 L926.31 1300.16" fill="none" stroke="#22cc38" stroke-width="1.3"/>
<path d="M631.5 925 L631.5 974.6" fill="none" stroke="#22cc38" stroke-width="3.2"/>
<path d="M631.5 925 L631.5 974.6" fill="none" stroke="#1f8038" stroke-width="0.8"/>
<path d="M620.1 921.2 L617.9 921.2 L617.9 978.4 L620.1 978.4" fill="none" stroke="#22cc38" stroke-width="1.3"/>
<path d="M631.5 1001 L631.5 1043" fill="none" stroke="#22cc38" stroke-width="3.2"/>
<path d="M631.5 1001 L631.5 1043" fill="none" stroke="#1f8038" stroke-width="0.8"/>
<path d="M620.1 997.2 L617.9 997.2 L617.9 1046.8 L620.1 1046.8" fill="none" stroke="#22cc38" stroke-width="1.3"/>
<path d="M1240 536.3 L1296 536.3" fill="none" stroke="#22cc38" stroke-width="1.1"/>
<path d="M1241 541 L1295 541" fill="none" stroke="#22cc38" stroke-width="3.2"/>
<path d="M1241 541 L1295 541" fill="none" stroke="#1f8038" stroke-width="0.8"/>
<path d="M1421.5 536.3 L1479 536.3" fill="none" stroke="#22cc38" stroke-width="1.1"/>
<path d="M1422.5 541 L1478 541" fill="none" stroke="#22cc38" stroke-width="3.2"/>
<path d="M1422.5 541 L1478 541" fill="none" stroke="#1f8038" stroke-width="0.8"/>
<path d="M1390 1208.6 L1407 1208.6" fill="none" stroke="#22cc38" stroke-width="2.8"/>
<path d="M1473 1208.6 L1489.4 1208.6" fill="none" stroke="#22cc38" stroke-width="2.8"/>
<path d="M1387.6 1213.6 L1387.6 1222 L1492.4 1222 L1492.4 1213.6" fill="none" stroke="#22cc38" stroke-width="1.1"/>
<path d="M1385.6 1222 L1494 1222" fill="none" stroke="#22cc38" stroke-width="1.1"/>
<path d="M980 387.5 L1037.5 387.5" fill="none" stroke="#22cc38" stroke-width="2.8"/>
<path d="M1037.5 384.5 L1093.75 384.5" fill="none" stroke="#22cc38" stroke-width="2.8"/>
<path d="M976 372 L1097.5 372" fill="none" stroke="#22cc38" stroke-width="1.1"/>
<path d="M1042.5 395.5 L1086 395.5" fill="none" stroke="#22cc38" stroke-width="1.1"/>
<path d="M1050 392 L1042.5 395.5 L1050 399" fill="none" stroke="#22cc38" stroke-width="1.1"/>
<rect x="656" y="573.6" width="30" height="49.4" rx="0" fill="none" stroke="#22cc38" stroke-width="1.1"/>
<rect x="658.5" y="583" width="20.5" height="29" rx="2" fill="none" stroke="#22cc38" stroke-width="1.1"/>
<path d="M675 595 L675 601" fill="none" stroke="#22cc38" stroke-width="2"/>
<rect x="656" y="625" width="30" height="48" rx="0" fill="none" stroke="#22cc38" stroke-width="1.1"/>
<path d="M739 728 L739 713 L768 713 L768 728" fill="none" stroke="#22cc38" stroke-width="1.1"/>
<rect x="742" y="716" width="23" height="13" rx="2" fill="none" stroke="#22cc38" stroke-width="1.1"/>
<circle cx="753.6" cy="725" r="1.6" fill="#22cc38" stroke="#22cc38" stroke-width="1"/>
<ellipse cx="876" cy="714" rx="14" ry="18" fill="none" stroke="#22cc38" stroke-width="1.1"/>
<ellipse cx="876" cy="714" rx="11.4" ry="15.4" fill="none" stroke="#22cc38" stroke-width="1.1"/>
<rect x="859" y="731.6" width="35" height="14" rx="0" fill="none" stroke="#22cc38" stroke-width="1.1"/>
<rect x="861" y="733.6" width="31" height="10" rx="0" fill="none" stroke="#22cc38" stroke-width="1.1"/>
<ellipse cx="671" cy="1021.6" rx="18" ry="14.5" fill="none" stroke="#22cc38" stroke-width="1.1"/>
<ellipse cx="671" cy="1021.6" rx="15.4" ry="11.9" fill="none" stroke="#22cc38" stroke-width="1.1"/>
<rect x="639" y="1004.4" width="12" height="33.6" rx="0" fill="none" stroke="#22cc38" stroke-width="1.1"/>
<rect x="641" y="1006.4" width="8" height="29.6" rx="0" fill="none" stroke="#22cc38" stroke-width="1.1"/>
<ellipse cx="1820" cy="832" rx="17" ry="14" fill="none" stroke="#22cc38" stroke-width="1.1"/>
<ellipse cx="1820" cy="832" rx="14.4" ry="11.4" fill="none" stroke="#22cc38" stroke-width="1.1"/>
<rect x="1839" y="814" width="14" height="34" rx="0" fill="none" stroke="#22cc38" stroke-width="1.1"/>
<rect x="1841" y="816" width="10" height="30" rx="0" fill="none" stroke="#22cc38" stroke-width="1.1"/>
<rect x="912" y="712" width="38" height="48" rx="0" fill="none" stroke="#22cc38" stroke-width="1.1"/>
<path d="M912 712 L937 760" fill="none" stroke="#22cc38" stroke-width="1.25"/>
<path d="M937 712 L912 760" fill="none" stroke="#22cc38" stroke-width="1.25"/>
<path d="M937 712 L937 760" fill="none" stroke="#22cc38" stroke-width="1.25"/>
<circle cx="924.5" cy="736" r="3.6" fill="#24293d" stroke="#22cc38" stroke-width="1.1"/>
<circle cx="942.5" cy="723" r="4.6" fill="none" stroke="#22cc38" stroke-width="1.1"/>
<circle cx="942.5" cy="723" r="2" fill="none" stroke="#22cc38" stroke-width="1.4"/>
<circle cx="942.5" cy="750" r="4.6" fill="none" stroke="#22cc38" stroke-width="1.1"/>
<circle cx="942.5" cy="750" r="2" fill="none" stroke="#22cc38" stroke-width="1.4"/>
<path d="M939 732 L947 732" fill="none" stroke="#22cc38" stroke-width="1.6"/>
<path d="M939 736 L947 736" fill="none" stroke="#22cc38" stroke-width="1.6"/>
<path d="M939 740 L947 740" fill="none" stroke="#22cc38" stroke-width="1.6"/>
<rect x="1156" y="714" width="33" height="58" rx="3" fill="none" stroke="#22cc38" stroke-width="1.1"/>
<rect x="1158.4" y="717" width="22.6" height="25" rx="2" fill="none" stroke="#22cc38" stroke-width="1.1"/>
<rect x="1158.4" y="745" width="22.6" height="25" rx="2" fill="none" stroke="#22cc38" stroke-width="1.1"/>
<path d="M1184.5 716 L1184.5 770" fill="none" stroke="#22cc38" stroke-width="1.1"/>
<circle cx="1169" cy="730" r="1.6" fill="#22cc38" stroke="#22cc38" stroke-width="1"/>
<circle cx="1169" cy="757" r="1.6" fill="#22cc38" stroke="#22cc38" stroke-width="1"/>
<path d="M1151 783 L1151 817" fill="none" stroke="#22cc38" stroke-width="2.6"/>
<rect x="1145" y="825" width="28" height="57.4" rx="0" fill="none" stroke="#22cc38" stroke-width="1.1"/>
<path d="M1147.5 825 L1147.5 882.4" fill="none" stroke="#22cc38" stroke-width="1.25"/>
<path d="M1144 862 L1146 862" fill="none" stroke="#22cc38" stroke-width="2.5"/>
<rect x="637.6" y="1056.4" width="94.8" height="51.2" rx="0" fill="none" stroke="#22cc38" stroke-width="1.1"/>
<path d="M646 1062.4 L706 1062.4 A20 19.8 0 0 1 706 1102 L646 1102 Q643 1102 643 1099 L643 1065.4 Q643 1062.4 646 1062.4 Z" fill="none" stroke="#22cc38" stroke-width="1.1"/>
<circle cx="652" cy="1082" r="2.6" fill="#22cc38" stroke="#22cc38" stroke-width="1"/>
<path d="M718 988.4 L776 988.4" fill="none" stroke="#22cc38" stroke-width="2.6"/>
<path d="M718 1112.4 L776 1112.4" fill="none" stroke="#22cc38" stroke-width="2.6"/>
<path d="M1658.4 658 L1658.4 716" fill="none" stroke="#22cc38" stroke-width="3"/>
<path d="M1744.5 658.75 L1744.5 716" fill="none" stroke="#22cc38" stroke-width="3"/>
<path d="M1627.6 891.6 L1627.6 949" fill="none" stroke="#22cc38" stroke-width="1.25"/>
<path d="M1634.4 891.6 L1634.4 949" fill="none" stroke="#22cc38" stroke-width="1.25"/>
<path d="M1571.6 954.4 L1628 954.4" fill="none" stroke="#22cc38" stroke-width="1.25"/>
<path d="M1571.6 1050 L1645 958" fill="none" stroke="#22cc38" stroke-width="1.25"/>
<path d="M1647 958 L1647 1050" fill="none" stroke="#22cc38" stroke-width="1.25"/>
<path d="M1573 958 L1591 980" fill="none" stroke="#22cc38" stroke-width="1.25"/>
<circle cx="1609" cy="1002.4" r="6.5" fill="none" stroke="#22cc38" stroke-width="1.1"/>
<circle cx="1609" cy="1002.4" r="3.2" fill="none" stroke="#22cc38" stroke-width="1.1"/>
<path d="M1603 996 L1617 1012" fill="none" stroke="#22cc38" stroke-width="1.25"/>
<path d="M1603 1009 L1615 996" fill="none" stroke="#22cc38" stroke-width="1.25"/>
<path d="M1573 988 L1579 988" fill="none" stroke="#22cc38" stroke-width="1.1"/>
<path d="M1576.5 985.5 L1579 988 L1576.5 990.5" fill="none" stroke="#22cc38" stroke-width="1.1"/>
<path d="M1573 1017 L1579 1017" fill="none" stroke="#22cc38" stroke-width="1.1"/>
<path d="M1576.5 1014.5 L1579 1017 L1576.5 1019.5" fill="none" stroke="#22cc38" stroke-width="1.1"/>
<path d="M1609 1050 L1609 1043" fill="none" stroke="#22cc38" stroke-width="1.25"/>
<path d="M1606 1046 L1612 1046" fill="none" stroke="#22cc38" stroke-width="1.25"/>
<path d="M1637 1038 L1647 1050 L1647 1036" fill="none" stroke="#22cc38" stroke-width="1.25"/>
<ellipse cx="1812" cy="1008" rx="41" ry="25" fill="none" stroke="#22cc38" stroke-width="1.1" transform="rotate(-40 1812 1008)"/>
<path d="M1816 954.4 L1759 1011 L1759 1050" fill="none" stroke="#22cc38" stroke-width="1.25"/>
<path d="M1759 1050 L1854 1050" fill="none" stroke="#22cc38" stroke-width="1.25"/>
<path d="M1102.5 302 L1102.5 362.5" fill="none" stroke="#22cc38" stroke-width="1.25"/>
<path d="M1517.5 304 L1517.5 363" fill="none" stroke="#22cc38" stroke-width="1.25"/>
<path d="M772.4 502 L772.4 559" fill="none" stroke="#22cc38" stroke-width="1.25"/>
<path d="M185 935 L363 935" fill="none" stroke="#22cc38" stroke-width="2.8"/>
<path d="M424 896.75 L602 896.75" fill="none" stroke="#22cc38" stroke-width="2.8"/>
<path d="M183.75 953 L173 953 L173 966 L375 966 L375 953 L364 953" fill="none" stroke="#22cc38" stroke-width="1.1"/>
<path d="M173 966 L183.75 953" fill="none" stroke="#22cc38" stroke-width="1.25"/>
<path d="M375 966 L364 953" fill="none" stroke="#22cc38" stroke-width="1.25"/>
<path d="M422.5 914.5 L412.5 914.5 L412.5 927.5 L614 927.5 L614 915" fill="none" stroke="#22cc38" stroke-width="1.1"/>
<path d="M412.5 927.5 L422.5 914.5" fill="none" stroke="#22cc38" stroke-width="1.25"/>
<path d="M614 927.5 L603.5 915" fill="none" stroke="#22cc38" stroke-width="1.25"/>
<path d="M1118.75 305 L1148.75 355" fill="none" stroke="#22cc38" stroke-width="3"/>
<path d="M1118.75 305 L1148.75 355" fill="none" stroke="#24293d" stroke-width="0.8"/>
<path d="M1148.75 355 A58.31 58.31 0 0 1 1120.98 363.27" fill="none" stroke="#22cc38" stroke-width="1.1"/>
<path d="M1152.18 352.94 L1145.32 357.06" fill="none" stroke="#22cc38" stroke-width="1.1"/>
<path d="M1523.75 306 L1552.5 355" fill="none" stroke="#22cc38" stroke-width="3"/>
<path d="M1523.75 306 L1552.5 355" fill="none" stroke="#24293d" stroke-width="0.8"/>
<path d="M1552.5 355 A56.81 56.81 0 0 1 1526.01 362.77" fill="none" stroke="#22cc38" stroke-width="1.1"/>
<path d="M1555.95 352.98 L1549.05 357.02" fill="none" stroke="#22cc38" stroke-width="1.1"/>
<path d="M1302 537 L1351 510" fill="none" stroke="#22cc38" stroke-width="3"/>
<path d="M1302 537 L1351 510" fill="none" stroke="#24293d" stroke-width="0.8"/>
<path d="M1351 510 A55.95 55.95 0 0 1 1357.95 537" fill="none" stroke="#22cc38" stroke-width="1.1"/>
<path d="M1349.07 506.5 L1352.93 513.5" fill="none" stroke="#22cc38" stroke-width="1.1"/>
<path d="M1416 537 L1366.3 510" fill="none" stroke="#22cc38" stroke-width="3"/>
<path d="M1416 537 L1366.3 510" fill="none" stroke="#24293d" stroke-width="0.8"/>
<path d="M1366.3 510 A56.56 56.56 0 0 0 1359.44 537" fill="none" stroke="#22cc38" stroke-width="1.1"/>
<path d="M1364.39 513.51 L1368.21 506.49" fill="none" stroke="#22cc38" stroke-width="1.1"/>
<path d="M1562.5 613.75 L1592.5 563.75" fill="none" stroke="#22cc38" stroke-width="3"/>
<path d="M1562.5 613.75 L1592.5 563.75" fill="none" stroke="#24293d" stroke-width="0.8"/>
<path d="M1592.5 563.75 A58.31 58.31 0 0 0 1564.52 555.48" fill="none" stroke="#22cc38" stroke-width="1.1"/>
<path d="M1589.07 561.69 L1595.93 565.81" fill="none" stroke="#22cc38" stroke-width="1.1"/>
<path d="M777 502 L808 551" fill="none" stroke="#22cc38" stroke-width="3"/>
<path d="M777 502 L808 551" fill="none" stroke="#24293d" stroke-width="0.8"/>
<path d="M808 551 A57.98 57.98 0 0 1 777 559.98" fill="none" stroke="#22cc38" stroke-width="1.1"/>
<path d="M811.38 548.86 L804.62 553.14" fill="none" stroke="#22cc38" stroke-width="1.1"/>
<path d="M776 579 L747 628" fill="none" stroke="#22cc38" stroke-width="3"/>
<path d="M776 579 L747 628" fill="none" stroke="#24293d" stroke-width="0.8"/>
<path d="M747 628 A56.94 56.94 0 0 0 776 635.94" fill="none" stroke="#22cc38" stroke-width="1.1"/>
<path d="M750.44 630.04 L743.56 625.96" fill="none" stroke="#22cc38" stroke-width="1.1"/>
<path d="M792 646 L841 675" fill="none" stroke="#22cc38" stroke-width="3"/>
<path d="M792 646 L841 675" fill="none" stroke="#24293d" stroke-width="0.8"/>
<path d="M841 675 A56.94 56.94 0 0 0 848.86 648.94" fill="none" stroke="#22cc38" stroke-width="1.1"/>
<path d="M843.04 671.56 L838.96 678.44" fill="none" stroke="#22cc38" stroke-width="1.1"/>
<path d="M862 632 L837 591" fill="none" stroke="#22cc38" stroke-width="3"/>
<path d="M862 632 L837 591" fill="none" stroke="#24293d" stroke-width="0.8"/>
<path d="M837 591 A48.02 48.02 0 0 1 860.04 584.02" fill="none" stroke="#22cc38" stroke-width="1.1"/>
<path d="M833.58 593.08 L840.42 588.92" fill="none" stroke="#22cc38" stroke-width="1.1"/>
<path d="M988 840 L977 799" fill="none" stroke="#22cc38" stroke-width="3"/>
<path d="M988 840 L977 799" fill="none" stroke="#24293d" stroke-width="0.8"/>
<path d="M977 799 A42.45 42.45 0 0 0 957.06 810.94" fill="none" stroke="#22cc38" stroke-width="1.1"/>
<path d="M973.14 800.04 L980.86 797.96" fill="none" stroke="#22cc38" stroke-width="1.1"/>
<path d="M852 974 L823.6 924" fill="none" stroke="#22cc38" stroke-width="3"/>
<path d="M852 974 L823.6 924" fill="none" stroke="#24293d" stroke-width="0.8"/>
<path d="M823.6 924 A57.5 57.5 0 0 1 850.02 916.53" fill="none" stroke="#22cc38" stroke-width="1.1"/>
<path d="M820.12 925.98 L827.08 922.02" fill="none" stroke="#22cc38" stroke-width="1.1"/>
<path d="M864 1012 L912 1043" fill="none" stroke="#22cc38" stroke-width="3"/>
<path d="M864 1012 L912 1043" fill="none" stroke="#24293d" stroke-width="0.8"/>
<path d="M912 1043 A57.14 57.14 0 0 0 921 1015.96" fill="none" stroke="#22cc38" stroke-width="1.1"/>
<path d="M914.17 1039.64 L909.83 1046.36" fill="none" stroke="#22cc38" stroke-width="1.1"/>
<path d="M928 1054 L900 1102" fill="none" stroke="#22cc38" stroke-width="3"/>
<path d="M928 1054 L900 1102" fill="none" stroke="#24293d" stroke-width="0.8"/>
<path d="M900 1102 A55.57 55.57 0 0 0 928 1109.57" fill="none" stroke="#22cc38" stroke-width="1.1"/>
<path d="M903.46 1104.02 L896.54 1099.98" fill="none" stroke="#22cc38" stroke-width="1.1"/>
<path d="M1730 800 L1682 828" fill="none" stroke="#22cc38" stroke-width="3"/>
<path d="M1730 800 L1682 828" fill="none" stroke="#24293d" stroke-width="0.8"/>
<path d="M1682 828 A55.57 55.57 0 0 1 1674.46 801.95" fill="none" stroke="#22cc38" stroke-width="1.1"/>
<path d="M1684.02 831.46 L1679.98 824.54" fill="none" stroke="#22cc38" stroke-width="1.1"/>
<path d="M1632 839 L1652 870" fill="none" stroke="#22cc38" stroke-width="3"/>
<path d="M1632 839 L1652 870" fill="none" stroke="#24293d" stroke-width="0.8"/>
<path d="M1652 870 A36.89 36.89 0 0 1 1634.9 875.78" fill="none" stroke="#22cc38" stroke-width="1.1"/>
<path d="M1655.36 867.83 L1648.64 872.17" fill="none" stroke="#22cc38" stroke-width="1.1"/>
<path d="M1752.4 860 L1796 836" fill="none" stroke="#22cc38" stroke-width="3"/>
<path d="M1752.4 860 L1796 836" fill="none" stroke="#24293d" stroke-width="0.8"/>
<path d="M1796 836 A49.77 49.77 0 0 1 1802.13 858.03" fill="none" stroke="#22cc38" stroke-width="1.1"/>
<path d="M1794.07 832.5 L1797.93 839.5" fill="none" stroke="#22cc38" stroke-width="1.1"/>
<path d="M1518 990 L1494 1030" fill="none" stroke="#22cc38" stroke-width="3"/>
<path d="M1518 990 L1494 1030" fill="none" stroke="#24293d" stroke-width="0.8"/>
<path d="M1494 1030 A46.65 46.65 0 0 0 1517.03 1036.64" fill="none" stroke="#22cc38" stroke-width="1.1"/>
<path d="M1497.43 1032.06 L1490.57 1027.94" fill="none" stroke="#22cc38" stroke-width="1.1"/>
<path d="M1468 1204 L1420 1174" fill="none" stroke="#22cc38" stroke-width="3"/>
<path d="M1468 1204 L1420 1174" fill="none" stroke="#24293d" stroke-width="0.8"/>
<path d="M1420 1174 A56.6 56.6 0 0 0 1411.4 1203.01" fill="none" stroke="#22cc38" stroke-width="1.1"/>
<path d="M1417.88 1177.39 L1422.12 1170.61" fill="none" stroke="#22cc38" stroke-width="1.1"/>
<path d="M852 772 L828 810" fill="none" stroke="#22cc38" stroke-width="3"/>
<path d="M852 772 L828 810" fill="none" stroke="#24293d" stroke-width="0.8"/>
<path d="M829 824 L852 867" fill="none" stroke="#22cc38" stroke-width="3"/>
<path d="M829 824 L852 867" fill="none" stroke="#24293d" stroke-width="0.8"/>
<path d="M822 809 L850 819 L822 829" fill="none" stroke="#22cc38" stroke-width="1.1"/>
<path d="M1525 1073 L1554 1120" fill="none" stroke="#22cc38" stroke-width="3"/>
<path d="M1525 1073 L1554 1120" fill="none" stroke="#24293d" stroke-width="0.8"/>
<path d="M1553 1138 L1525 1187" fill="none" stroke="#22cc38" stroke-width="3"/>
<path d="M1553 1138 L1525 1187" fill="none" stroke="#24293d" stroke-width="0.8"/>
<path d="M1561 1118 L1527 1130 L1561 1142" fill="none" stroke="#22cc38" stroke-width="1.1"/>
</g>
<g id="mull">
<polygon points="765,199.5 770,199.5 770,189.5 765,189.5" fill="url(#h)"/>
<polygon points="820.5,199.5 825.5,199.5 825.5,189.5 820.5,189.5" fill="url(#h)"/>
<polygon points="1197,295 1202,295 1202,285 1197,285" fill="url(#h)"/>
<polygon points="1318,295 1323,295 1323,285 1318,285" fill="url(#h)"/>
<polygon points="1438.5,295 1443.5,295 1443.5,285 1438.5,285" fill="url(#h)"/>
<polygon points="1668.5,200 1673.5,200 1673.5,190 1668.5,190" fill="url(#h)"/>
<polygon points="1013.5,1270 1018.5,1270 1018.5,1279.6 1013.5,1279.6" fill="url(#h)"/>
</g>
<g id="text" filter="url(#idf)">
<text x="301" y="676" font-family="Liberation Sans, Arial, sans-serif" font-size="21.8" fill="#e6ea44" textLength="93.5" lengthAdjust="spacingAndGlyphs" stroke="#24293d" stroke-width="0.22">TWO CAR</text>
<path d="M300 680 L395.5 680" fill="none" stroke="#c9cd4c" stroke-width="1.15"/>
<text x="303" y="700" font-family="Liberation Sans, Arial, sans-serif" font-size="21.8" fill="#e6ea44" textLength="88.5" lengthAdjust="spacingAndGlyphs" stroke="#24293d" stroke-width="0.22">GARAGE</text>
<path d="M302 702.5 L392.5 702.5" fill="none" stroke="#c9cd4c" stroke-width="1.15"/>
<text x="757.5" y="323.75" font-family="Liberation Sans, Arial, sans-serif" font-size="22.53" fill="#e6ea44" textLength="132.5" lengthAdjust="spacingAndGlyphs" stroke="#24293d" stroke-width="0.22">KEEPING RM.</text>
<path d="M756.5 327.5 L891 327.5" fill="none" stroke="#c9cd4c" stroke-width="1.15"/>
<text x="1275.5" y="143.75" font-family="Liberation Sans, Arial, sans-serif" font-size="22.53" fill="#e6ea44" textLength="58.25" lengthAdjust="spacingAndGlyphs" stroke="#24293d" stroke-width="0.22">DECK</text>
<path d="M1274.5 146.5 L1334.75 146.5" fill="none" stroke="#c9cd4c" stroke-width="1.15"/>
<text x="1640" y="275" font-family="Liberation Sans, Arial, sans-serif" font-size="21.8" fill="#e6ea44" textLength="72.5" lengthAdjust="spacingAndGlyphs" stroke="#24293d" stroke-width="0.22">SITTING</text>
<path d="M1639 278 L1713.5 278" fill="none" stroke="#c9cd4c" stroke-width="1.15"/>
<text x="1635" y="415" font-family="Liberation Sans, Arial, sans-serif" font-size="21.8" fill="#e6ea44" textLength="83.75" lengthAdjust="spacingAndGlyphs" stroke="#24293d" stroke-width="0.22">MASTER</text>
<path d="M1634 418 L1719.75 418" fill="none" stroke="#c9cd4c" stroke-width="1.15"/>
<text x="1649.5" y="438" font-family="Liberation Sans, Arial, sans-serif" font-size="21.8" fill="#e6ea44" textLength="53" lengthAdjust="spacingAndGlyphs" stroke="#24293d" stroke-width="0.22">SUITE</text>
<path d="M1648.5 440.5 L1703.5 440.5" fill="none" stroke="#c9cd4c" stroke-width="1.15"/>
<text x="1282.5" y="417.5" font-family="Liberation Sans, Arial, sans-serif" font-size="21.8" fill="#e6ea44" textLength="78.5" lengthAdjust="spacingAndGlyphs" stroke="#24293d" stroke-width="0.22">SUN RM.</text>
<path d="M1281.5 421 L1362 421" fill="none" stroke="#c9cd4c" stroke-width="1.15"/>
<text x="1009.5" y="446" font-family="Liberation Sans, Arial, sans-serif" font-size="21.8" fill="#e6ea44" textLength="135.5" lengthAdjust="spacingAndGlyphs" stroke="#24293d" stroke-width="0.22">MORNING RM.</text>
<path d="M1008.5 449.5 L1146 449.5" fill="none" stroke="#c9cd4c" stroke-width="1.15"/>
<text x="1337" y="732" font-family="Liberation Sans, Arial, sans-serif" font-size="21.8" fill="#e6ea44" textLength="113" lengthAdjust="spacingAndGlyphs" stroke="#24293d" stroke-width="0.22">GREAT RM.</text>
<path d="M1336 735 L1451 735" fill="none" stroke="#c9cd4c" stroke-width="1.15"/>
<text x="1060" y="743" font-family="Liberation Sans, Arial, sans-serif" font-size="21.8" fill="#e6ea44" textLength="86" lengthAdjust="spacingAndGlyphs" stroke="#24293d" stroke-width="0.22">KITCHEN</text>
<path d="M1059 746 L1147 746" fill="none" stroke="#c9cd4c" stroke-width="1.15"/>
<text x="700" y="668" font-family="Liberation Sans, Arial, sans-serif" font-size="17.44" fill="#e6ea44" textLength="58" lengthAdjust="spacingAndGlyphs" stroke="#24293d" stroke-width="0.22">UTILITY</text>
<path d="M699 670.6 L759 670.6" fill="none" stroke="#c9cd4c" stroke-width="1.15"/>
<text x="675" y="793" font-family="Liberation Sans, Arial, sans-serif" font-size="21.08" fill="#e6ea44" textLength="63" lengthAdjust="spacingAndGlyphs" stroke="#24293d" stroke-width="0.22">GUEST</text>
<path d="M674 796 L739 796" fill="none" stroke="#c9cd4c" stroke-width="1.15"/>
<text x="669" y="816" font-family="Liberation Sans, Arial, sans-serif" font-size="21.8" fill="#e6ea44" textLength="73.4" lengthAdjust="spacingAndGlyphs" stroke="#24293d" stroke-width="0.22">SUITE #1</text>
<path d="M668 819.6 L743.4 819.6" fill="none" stroke="#c9cd4c" stroke-width="1.15"/>
<text x="709" y="1201" font-family="Liberation Sans, Arial, sans-serif" font-size="21.08" fill="#e6ea44" textLength="63" lengthAdjust="spacingAndGlyphs" stroke="#24293d" stroke-width="0.22">GUEST</text>
<path d="M708 1204 L773 1204" fill="none" stroke="#c9cd4c" stroke-width="1.15"/>
<text x="702" y="1224.4" font-family="Liberation Sans, Arial, sans-serif" font-size="21.8" fill="#e6ea44" textLength="78" lengthAdjust="spacingAndGlyphs" stroke="#24293d" stroke-width="0.22">SUITE #2</text>
<path d="M701 1227.6 L781 1227.6" fill="none" stroke="#c9cd4c" stroke-width="1.15"/>
<text x="1152.4" y="1103" font-family="Liberation Sans, Arial, sans-serif" font-size="21.8" fill="#e6ea44" textLength="110.6" lengthAdjust="spacingAndGlyphs" stroke="#24293d" stroke-width="0.22">DINING RM.</text>
<path d="M1151.4 1106 L1264 1106" fill="none" stroke="#c9cd4c" stroke-width="1.15"/>
<text x="1401" y="1084.4" font-family="Liberation Sans, Arial, sans-serif" font-size="21.8" fill="#e6ea44" textLength="70" lengthAdjust="spacingAndGlyphs" stroke="#24293d" stroke-width="0.22">FOYER</text>
<path d="M1400 1087.6 L1472 1087.6" fill="none" stroke="#c9cd4c" stroke-width="1.15"/>
<text x="1583.6" y="1197" font-family="Liberation Sans, Arial, sans-serif" font-size="21.8" fill="#e6ea44" textLength="64.8" lengthAdjust="spacingAndGlyphs" stroke="#24293d" stroke-width="0.22">STUDY</text>
<path d="M1582.6 1200 L1649.4 1200" fill="none" stroke="#c9cd4c" stroke-width="1.15"/>
<text x="1427.7" y="1415.7" font-family="Liberation Sans, Arial, sans-serif" font-size="17.44" fill="#e6ea44" textLength="116.3" lengthAdjust="spacingAndGlyphs" stroke="#24293d" stroke-width="0.22">FRONT STOOP</text>
<path d="M1426.7 1418.5 L1545 1418.5" fill="none" stroke="#c9cd4c" stroke-width="1.15"/>
<text x="1615" y="752" font-family="Liberation Sans, Arial, sans-serif" font-size="14.24" fill="#ececf0" textLength="25" lengthAdjust="spacingAndGlyphs" stroke="#24293d" stroke-width="0.22">HIS</text>
<path d="M1614 754.6 L1641 754.6" fill="none" stroke="#ececf0" stroke-width="1.15"/>
<text x="1611" y="770.4" font-family="Liberation Sans, Arial, sans-serif" font-size="13.95" fill="#ececf0" textLength="35" lengthAdjust="spacingAndGlyphs" stroke="#24293d" stroke-width="0.22">W.I.C.</text>
<path d="M1610 772.6 L1647 772.6" fill="none" stroke="#ececf0" stroke-width="1.15"/>
<text x="1781.6" y="704" font-family="Liberation Sans, Arial, sans-serif" font-size="14.83" fill="#ececf0" textLength="33.4" lengthAdjust="spacingAndGlyphs" stroke="#24293d" stroke-width="0.22">HER</text>
<path d="M1780.6 706.2 L1816 706.2" fill="none" stroke="#ececf0" stroke-width="1.15"/>
<text x="1781.6" y="722" font-family="Liberation Sans, Arial, sans-serif" font-size="13.95" fill="#ececf0" textLength="35.4" lengthAdjust="spacingAndGlyphs" stroke="#24293d" stroke-width="0.22">W.I.C.</text>
<path d="M1780.6 724.2 L1818 724.2" fill="none" stroke="#ececf0" stroke-width="1.15"/>
<text x="318.75" y="747.5" font-family="Liberation Sans, Arial, sans-serif" font-size="11.34" fill="#ececf0" textLength="54.25" lengthAdjust="spacingAndGlyphs" stroke="#24293d" stroke-width="0.15">24/8X23/Ø-</text>
<text x="776" y="340" font-family="Liberation Sans, Arial, sans-serif" font-size="11.34" fill="#ececf0" textLength="44" lengthAdjust="spacingAndGlyphs" stroke="#24293d" stroke-width="0.15">16/6x15/2</text>
<text x="1657" y="291.25" font-family="Liberation Sans, Arial, sans-serif" font-size="11.34" fill="#ececf0" textLength="38" lengthAdjust="spacingAndGlyphs" stroke="#24293d" stroke-width="0.15">15/2x7/Ø</text>
<text x="1655" y="453.75" font-family="Liberation Sans, Arial, sans-serif" font-size="11.34" fill="#ececf0" textLength="38.75" lengthAdjust="spacingAndGlyphs" stroke="#24293d" stroke-width="0.15">15/2x15/2</text>
<text x="1296" y="447" font-family="Liberation Sans, Arial, sans-serif" font-size="11.34" fill="#ececf0" textLength="50" lengthAdjust="spacingAndGlyphs" stroke="#24293d" stroke-width="0.15">20/10x12/8</text>
<text x="1056" y="461" font-family="Liberation Sans, Arial, sans-serif" font-size="11.34" fill="#ececf0" textLength="42.75" lengthAdjust="spacingAndGlyphs" stroke="#24293d" stroke-width="0.15">15/10x11/8</text>
<text x="1366" y="776" font-family="Liberation Sans, Arial, sans-serif" font-size="11.34" fill="#ececf0" textLength="50" lengthAdjust="spacingAndGlyphs" stroke="#24293d" stroke-width="0.15">16/10x22/Ø</text>
<text x="1081" y="758.4" font-family="Liberation Sans, Arial, sans-serif" font-size="11.34" fill="#ececf0" textLength="41" lengthAdjust="spacingAndGlyphs" stroke="#24293d" stroke-width="0.15">14/8x13/8</text>
<text x="713" y="681.6" font-family="Liberation Sans, Arial, sans-serif" font-size="11.34" fill="#ececf0" textLength="30.6" lengthAdjust="spacingAndGlyphs" stroke="#24293d" stroke-width="0.15">7/2x9/2</text>
<text x="685" y="832" font-family="Liberation Sans, Arial, sans-serif" font-size="11.34" fill="#ececf0" textLength="37" lengthAdjust="spacingAndGlyphs" stroke="#24293d" stroke-width="0.15">11/2x12/Ø</text>
<text x="719" y="1254.4" font-family="Liberation Sans, Arial, sans-serif" font-size="11.34" fill="#ececf0" textLength="40.6" lengthAdjust="spacingAndGlyphs" stroke="#24293d" stroke-width="0.15">12/8x12/Ø</text>
<text x="1184" y="1117" font-family="Liberation Sans, Arial, sans-serif" font-size="11.34" fill="#ececf0" textLength="50" lengthAdjust="spacingAndGlyphs" stroke="#24293d" stroke-width="0.15">13/Øx15/4+</text>
<text x="1414.4" y="1114" font-family="Liberation Sans, Arial, sans-serif" font-size="11.34" fill="#ececf0" textLength="39.2" lengthAdjust="spacingAndGlyphs" stroke="#24293d" stroke-width="0.15">8/Øx12/4</text>
<text x="1596.4" y="1227" font-family="Liberation Sans, Arial, sans-serif" font-size="11.34" fill="#ececf0" textLength="38.6" lengthAdjust="spacingAndGlyphs" stroke="#24293d" stroke-width="0.15">12/8x15/2</text>
<text x="1609.6" y="784" font-family="Liberation Sans, Arial, sans-serif" font-size="11.34" fill="#ececf0" textLength="39.4" lengthAdjust="spacingAndGlyphs" stroke="#24293d" stroke-width="0.15">4/4x10/2</text>
<text x="1780" y="735" font-family="Liberation Sans, Arial, sans-serif" font-size="11.34" fill="#ececf0" textLength="38.4" lengthAdjust="spacingAndGlyphs" stroke="#24293d" stroke-width="0.15">5/6x8/8</text>
<text x="1461.5" y="1444" font-family="Liberation Sans, Arial, sans-serif" font-size="11.34" fill="#ececf0" textLength="34.5" lengthAdjust="spacingAndGlyphs" stroke="#24293d" stroke-width="0.15">7/2x3/6</text>
<text x="217" y="1202.5" font-family="DejaVu Sans Light, DejaVu Sans, Liberation Sans, sans-serif" font-weight="200" font-size="27.4" fill="#d2222e" textLength="274" lengthAdjust="spacing">FIRST FLOOR PLAN</text>
<path d="M217 1206.4 L510 1206.4" fill="none" stroke="#d2222e" stroke-width="1.2"/>
<text x="223.75" y="1222.5" font-family="Liberation Sans, sans-serif" font-size="11.5" fill="#d838d8" textLength="54" lengthAdjust="spacingAndGlyphs">1/4&quot;=1'-Ø&quot;</text>
</g>
</svg></body></html>
